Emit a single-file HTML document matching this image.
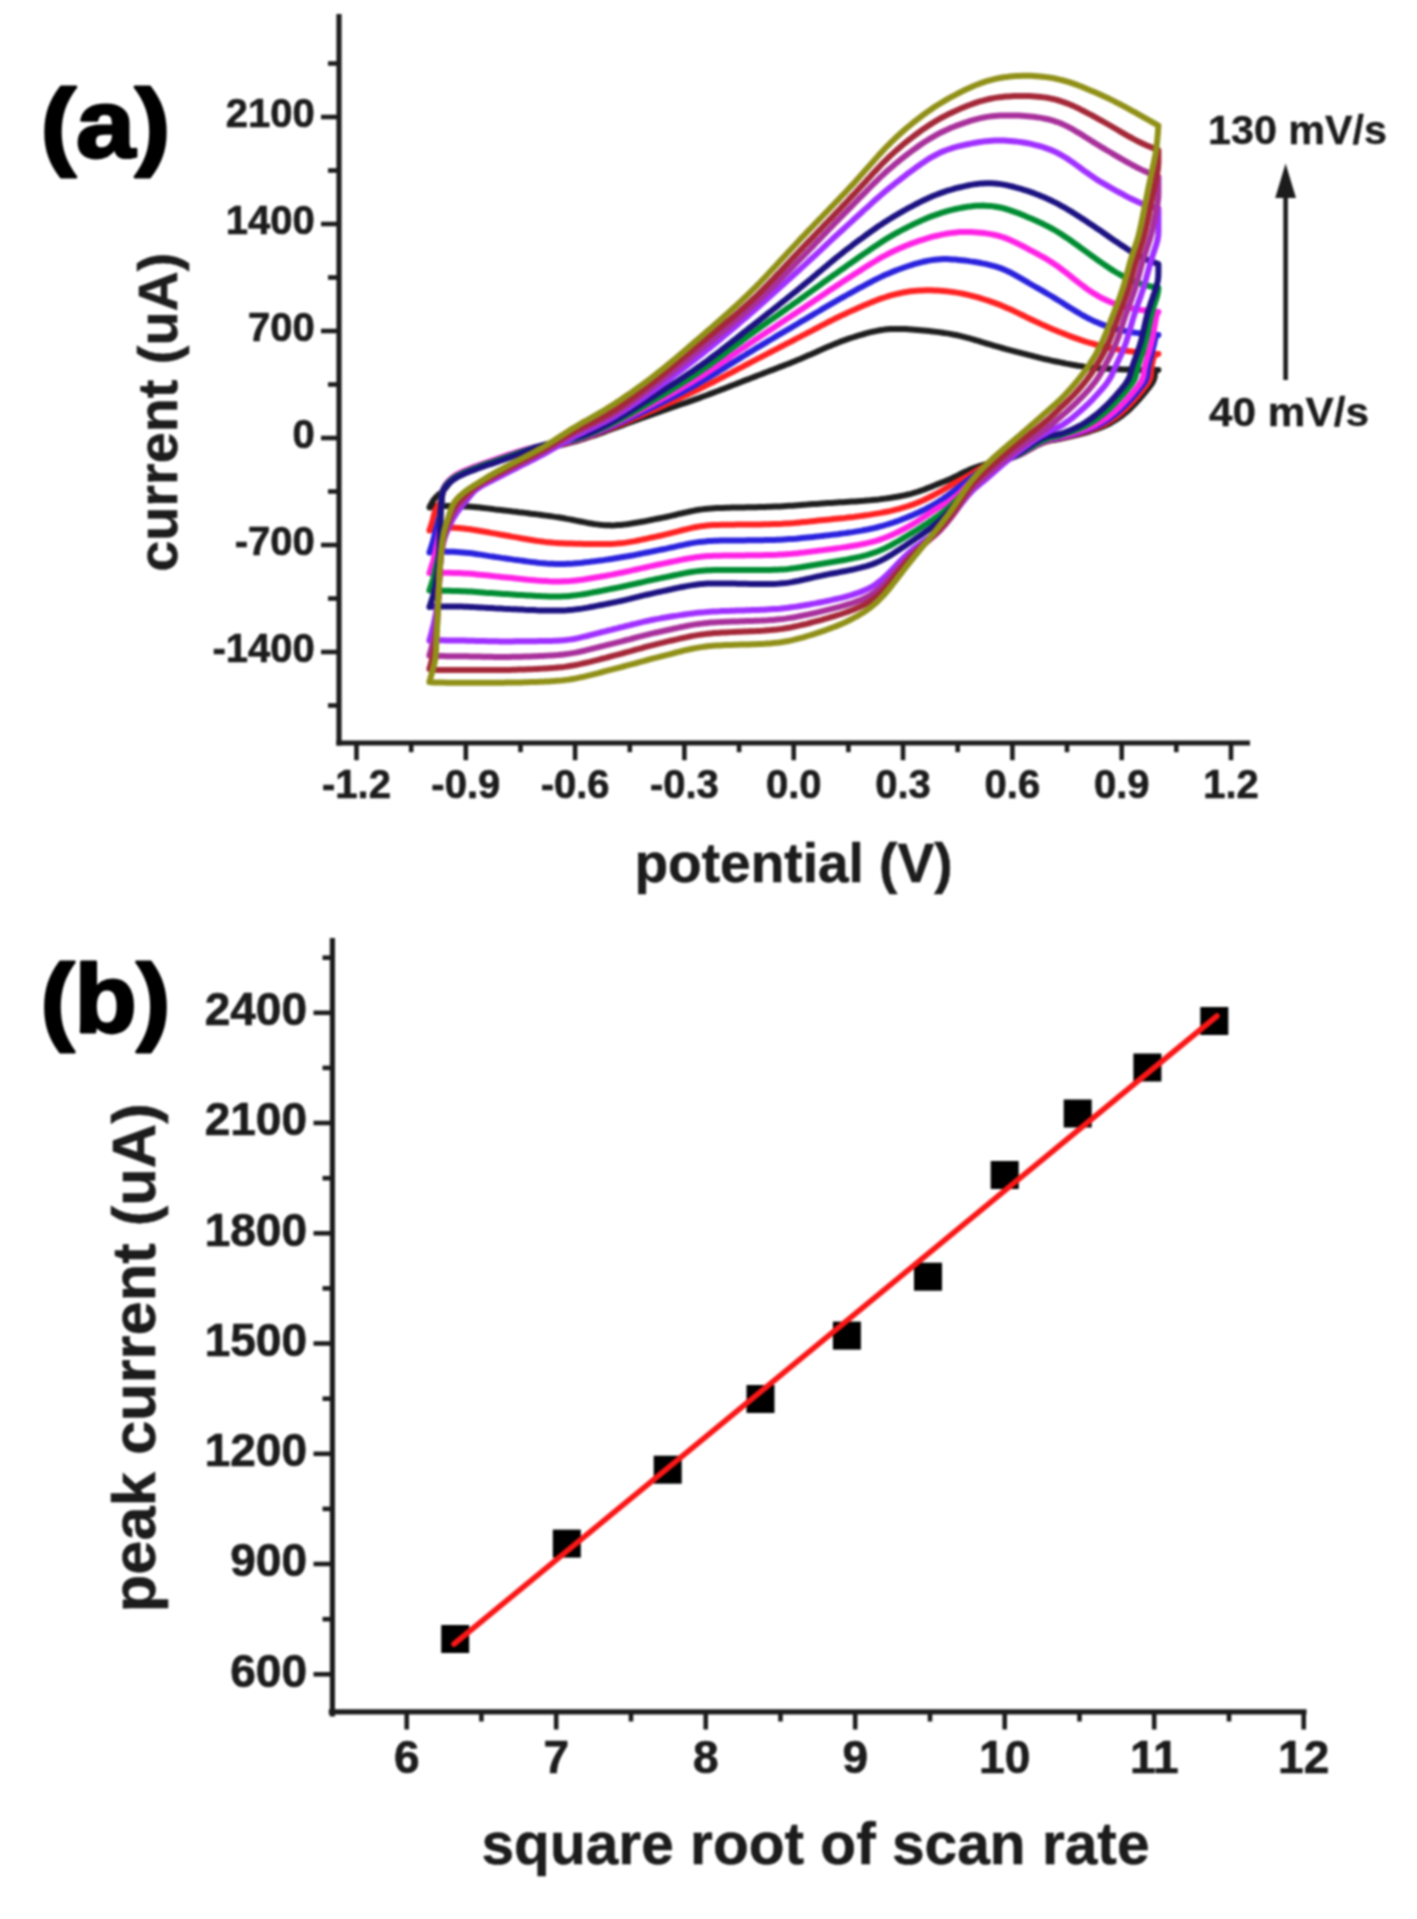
<!DOCTYPE html>
<html><head><meta charset="utf-8"><title>CV scan-rate study</title>
<style>
html,body{margin:0;padding:0;background:#fff;}
body{width:1417px;height:1919px;overflow:hidden;}
svg{display:block;font-family:"Liberation Sans",sans-serif;font-weight:bold;filter:blur(1.1px);}
</style></head>
<body>
<svg width="1417" height="1919" viewBox="0 0 1417 1919">
<rect width="1417" height="1919" fill="#fff"/>
<g id="panel-a">
<g fill="none" stroke-width="6.0" stroke-linejoin="round" stroke-linecap="round">
<path d="M429.4,507.5 430.3,505.7 430.7,504.8 431.2,503.9 432.2,502.2 433.3,500.5 433.8,499.7 434.4,498.9 435.7,497.4 437.1,496.0 437.9,495.4 438.6,494.7 440.2,493.4 441.7,492.1 442.4,491.4 443.1,490.7 444.5,489.2 445.8,487.7 446.4,486.9 447.0,486.1 448.3,484.5 449.5,482.9 450.2,482.1 450.8,481.4 452.2,479.9 453.6,478.7 454.4,478.1 455.2,477.5 456.8,476.5 458.6,475.6 459.5,475.1 460.4,474.7 462.2,473.8 464.1,473.0 465.0,472.6 465.9,472.2 467.8,471.4 469.6,470.7 470.6,470.3 471.5,469.9 473.4,469.2 475.2,468.5 476.2,468.1 477.1,467.8 479.0,467.1 480.9,466.4 481.8,466.1 482.8,465.8 484.6,465.1 486.5,464.5 487.5,464.1 488.4,463.8 490.3,463.2 492.2,462.5 493.2,462.2 494.1,461.8 496.0,461.2 497.9,460.5 498.8,460.2 499.8,459.8 501.6,459.2 503.5,458.5 504.5,458.2 505.4,457.8 507.3,457.2 509.2,456.5 510.2,456.2 511.1,455.9 513.0,455.3 514.9,454.7 515.9,454.4 516.8,454.2 518.7,453.6 520.7,453.1 521.6,452.9 522.6,452.6 524.5,452.2 526.5,451.7 527.5,451.5 528.4,451.3 530.4,450.9 533.3,450.3 536.3,449.8 539.2,449.3 542.2,448.7 545.1,448.2 548.1,447.6 551.0,447.0 554.0,446.5 556.9,445.8 559.8,445.2 562.8,444.5 565.7,443.8 568.6,443.1 571.5,442.4 574.4,441.6 577.3,440.8 580.1,439.9 583.0,439.1 585.8,438.1 588.7,437.2 591.5,436.2 594.4,435.3 597.2,434.3 600.0,433.3 602.9,432.3 605.7,431.3 608.5,430.2 611.3,429.2 614.2,428.2 617.0,427.2 619.8,426.1 622.6,425.1 625.4,424.0 628.2,423.0 631.1,422.0 633.9,420.9 636.7,419.9 639.5,418.9 642.3,417.8 645.1,416.8 648.0,415.8 650.8,414.8 653.6,413.8 656.4,412.8 659.3,411.8 662.1,410.8 665.0,409.9 667.8,408.9 670.6,407.9 673.5,407.0 676.3,406.0 679.2,405.0 682.0,404.0 684.8,403.1 687.7,402.1 690.5,401.1 693.3,400.1 696.1,399.1 699.0,398.1 701.8,397.0 704.6,396.0 707.4,395.0 710.2,393.9 713.0,392.9 715.8,391.8 718.6,390.7 721.4,389.6 724.2,388.6 727.0,387.5 729.8,386.4 732.6,385.3 735.4,384.2 738.2,383.1 741.0,382.0 743.8,380.9 746.6,379.8 749.4,378.8 752.2,377.7 755.0,376.6 757.8,375.5 760.6,374.5 763.4,373.4 766.2,372.3 769.0,371.2 771.8,370.2 774.6,369.1 777.4,368.0 780.2,366.9 783.0,365.9 785.8,364.8 788.6,363.7 791.4,362.6 794.2,361.4 796.9,360.3 799.7,359.2 802.5,358.0 805.3,356.8 808.0,355.6 810.8,354.4 813.5,353.2 816.3,352.0 819.0,350.7 821.8,349.5 824.5,348.3 827.3,347.1 830.0,345.9 832.8,344.7 835.6,343.6 838.4,342.5 841.1,341.4 844.0,340.4 846.8,339.4 849.6,338.4 852.5,337.5 855.3,336.6 858.2,335.7 861.1,334.8 864.0,334.0 866.9,333.2 869.8,332.4 872.7,331.7 875.7,331.1 878.6,330.5 881.6,330.0 884.5,329.6 887.5,329.3 890.4,329.1 893.4,328.9 896.4,328.9 899.4,328.9 902.4,329.0 905.4,329.1 908.4,329.3 911.4,329.5 914.4,329.7 917.4,329.9 920.4,330.2 923.3,330.5 926.3,330.8 929.3,331.1 932.3,331.4 935.3,331.8 938.2,332.1 941.2,332.5 944.2,333.0 947.1,333.4 950.1,333.9 953.0,334.5 955.9,335.0 958.8,335.7 961.7,336.4 964.6,337.1 967.5,337.8 970.4,338.6 973.3,339.5 976.2,340.3 979.1,341.2 981.9,342.1 984.8,343.0 987.7,343.8 990.6,344.7 993.5,345.6 996.4,346.4 999.2,347.2 1002.1,348.0 1005.0,348.8 1007.9,349.6 1010.8,350.4 1013.7,351.1 1016.7,351.9 1019.6,352.6 1022.5,353.4 1025.4,354.1 1028.3,354.9 1031.2,355.6 1034.1,356.4 1037.0,357.1 1039.9,357.9 1042.8,358.6 1045.7,359.3 1048.7,359.9 1051.6,360.6 1054.5,361.2 1057.5,361.8 1060.4,362.4 1063.3,363.0 1066.3,363.6 1069.2,364.1 1072.2,364.7 1075.2,365.2 1078.1,365.7 1081.1,366.1 1084.1,366.6 1087.0,367.0 1090.0,367.3 1093.0,367.6 1096.0,367.9 1099.0,368.2 1101.9,368.4 1104.9,368.6 1107.9,368.8 1110.9,369.0 1113.9,369.1 1116.9,369.2 1119.9,369.3 1122.9,369.4 1125.9,369.5 1128.9,369.6 1131.9,369.7 1134.9,369.8 1137.9,369.8 1140.9,369.9 1143.8,369.9 1146.8,369.9 1147.7,369.9 1148.7,369.9 1149.7,370.0 1150.7,370.0 1151.6,370.0 1152.6,370.0 1153.6,370.0 1154.5,370.0 1155.5,370.0 1156.5,370.0 1157.4,370.0 1158.4,370.0 1154.7,371.5 1154.8,373.0 1154.8,374.5 1154.8,376.0 1154.5,377.5 1154.1,379.0 1153.5,380.5 1152.8,382.0 1151.9,383.5 1150.8,385.0 1149.7,386.5 1148.6,388.0 1147.4,389.5 1146.2,391.0 1144.9,392.5 1143.7,394.0 1142.4,395.5 1141.1,397.0 1139.8,398.5 1138.5,400.0 1137.1,401.5 1135.8,403.0 1134.4,404.5 1132.9,406.0 1131.4,407.5 1129.8,409.0 1128.2,410.5 1126.5,412.0 1124.7,413.5 1122.8,415.0 1120.8,416.5 1118.6,418.0 1116.4,419.5 1114.0,421.0 1111.4,422.5 1108.6,424.0 1105.5,425.5 1102.1,427.0 1098.4,428.5 1094.1,430.0 1089.4,431.5 1084.1,433.0 1078.3,434.5 1072.1,436.0 1065.7,437.5 1059.0,439.0 1057.0,439.4 1056.0,439.5 1055.0,439.7 1053.0,440.0 1051.0,440.3 1050.0,440.6 1049.0,440.8 1047.0,441.3 1045.0,442.0 1044.0,442.3 1043.0,442.7 1041.0,443.5 1039.0,444.4 1038.0,444.9 1037.0,445.4 1035.0,446.4 1033.0,447.5 1032.0,448.1 1031.0,448.6 1029.0,449.8 1027.0,450.9 1026.0,451.4 1025.0,452.0 1023.0,453.0 1021.0,454.0 1020.0,454.5 1019.0,454.9 1017.0,455.7 1015.0,456.5 1014.0,456.8 1013.0,457.2 1011.0,457.8 1009.0,458.3 1008.0,458.6 1007.0,458.9 1005.0,459.4 1003.0,459.9 1002.0,460.2 1001.0,460.4 999.0,460.9 997.0,461.4 996.0,461.7 995.0,461.9 993.0,462.4 991.0,462.9 990.0,463.1 989.0,463.4 987.0,463.9 985.0,464.5 984.0,464.7 983.0,465.0 981.0,465.6 979.0,466.2 978.0,466.6 977.0,466.9 975.0,467.6 973.0,468.3 972.0,468.7 971.0,469.1 969.0,470.0 967.0,470.9 966.0,471.4 965.0,471.8 963.0,472.8 961.0,473.8 960.0,474.3 959.0,474.8 957.0,475.9 955.0,476.8 954.0,477.3 953.0,477.8 951.0,478.7 949.0,479.6 948.0,480.0 947.0,480.4 945.0,481.2 943.0,482.0 942.0,482.4 941.0,482.8 939.0,483.6 937.0,484.4 936.0,484.8 935.0,485.2 933.0,486.0 931.0,486.9 930.0,487.3 929.0,487.7 927.0,488.4 925.0,489.2 924.0,489.6 923.0,490.0 921.0,490.7 919.0,491.4 918.0,491.7 917.0,492.0 915.0,492.6 913.0,493.2 912.0,493.5 911.0,493.8 909.0,494.3 907.0,494.7 906.0,495.0 905.0,495.2 903.0,495.6 901.0,496.0 900.0,496.2 897.0,496.8 894.0,497.3 891.0,497.8 888.0,498.2 885.0,498.6 882.0,499.0 879.0,499.4 876.0,499.7 873.0,500.0 870.0,500.3 867.0,500.5 864.0,500.8 861.0,501.0 858.0,501.2 855.0,501.4 852.0,501.6 849.0,501.8 846.0,502.0 843.0,502.2 840.0,502.3 837.0,502.5 834.0,502.7 831.0,502.9 828.0,503.1 825.0,503.3 822.0,503.5 819.0,503.7 816.0,503.9 813.0,504.1 810.0,504.3 807.0,504.6 804.0,504.8 801.0,505.0 798.0,505.2 795.0,505.4 792.0,505.7 789.0,505.8 786.0,506.0 783.0,506.2 780.0,506.4 777.0,506.5 774.0,506.6 771.0,506.7 768.0,506.8 765.0,506.9 762.0,507.0 759.0,507.1 756.0,507.2 753.0,507.2 750.0,507.3 747.0,507.3 744.0,507.4 741.0,507.5 738.0,507.5 735.0,507.6 732.0,507.6 729.0,507.7 726.0,507.8 723.0,507.9 720.0,508.0 717.0,508.1 714.0,508.3 711.0,508.5 708.0,508.7 705.0,509.0 702.0,509.4 699.0,509.8 696.0,510.3 693.0,510.9 690.0,511.5 687.0,512.2 684.0,512.8 681.0,513.5 678.0,514.2 675.0,515.0 672.0,515.6 669.0,516.3 666.0,517.0 663.0,517.6 660.0,518.2 657.0,518.8 654.0,519.4 651.0,520.0 648.0,520.6 645.0,521.2 642.0,521.7 639.0,522.3 636.0,522.8 633.0,523.3 630.0,523.8 627.0,524.2 624.0,524.6 621.0,524.9 618.0,525.1 615.0,525.3 612.0,525.4 609.0,525.3 606.0,525.3 603.0,525.1 600.0,524.8 597.0,524.4 594.0,524.0 591.0,523.5 588.0,523.0 585.0,522.4 582.0,521.8 579.0,521.2 576.0,520.6 573.0,520.0 570.0,519.4 567.0,518.9 564.0,518.3 561.0,517.8 558.0,517.3 555.0,516.9 552.0,516.4 549.0,516.0 546.0,515.6 543.0,515.2 540.0,514.8 537.0,514.4 534.0,514.0 531.0,513.7 528.0,513.3 525.0,512.9 522.0,512.5 519.0,512.2 516.0,511.8 513.0,511.5 510.0,511.1 507.0,510.8 504.0,510.4 501.0,510.1 498.0,509.7 495.0,509.4 492.0,509.0 489.0,508.6 486.0,508.3 483.0,507.9 480.0,507.6 477.0,507.3 474.0,507.0 471.0,506.7 468.0,506.5 465.0,506.4 462.0,506.2 459.0,506.1 456.0,506.1 453.0,506.0 450.0,506.0 447.0,506.0 444.0,506.0 441.0,506.0 438.0,506.1 435.0,506.4 432.0,507.0 429.4,507.5Z" stroke="#1e1e1e"/>
<path d="M429.4,530.5 430.1,528.6 430.4,527.7 430.7,526.7 431.3,524.8 431.9,522.9 432.2,521.9 432.5,521.0 433.0,519.0 433.5,517.1 433.7,516.1 433.9,515.1 434.4,513.2 435.0,511.3 435.4,510.4 435.7,509.5 436.7,507.7 437.8,506.0 438.3,505.2 438.9,504.4 440.0,502.7 440.9,500.9 441.2,500.0 441.5,499.1 441.9,497.2 442.2,495.2 442.3,494.2 442.5,493.3 442.9,491.4 443.5,489.6 443.8,488.7 444.3,487.8 445.3,486.1 446.6,484.5 447.3,483.7 448.0,482.9 449.5,481.5 451.0,480.1 451.8,479.4 452.6,478.8 454.2,477.6 455.9,476.5 456.7,476.0 457.6,475.6 459.4,474.6 461.2,473.8 462.1,473.4 463.1,472.9 464.9,472.1 466.8,471.3 467.7,471.0 468.6,470.6 470.5,469.8 472.3,469.1 473.3,468.7 474.2,468.4 476.1,467.7 478.0,467.0 478.9,466.7 479.8,466.3 481.7,465.6 483.6,465.0 484.6,464.7 485.5,464.3 487.4,463.7 489.3,463.0 490.2,462.7 491.2,462.4 493.1,461.7 494.9,461.1 495.9,460.7 496.8,460.4 498.7,459.7 500.6,459.0 501.6,458.7 502.5,458.4 504.4,457.7 506.3,457.1 507.2,456.7 508.2,456.4 510.1,455.8 512.9,454.8 515.8,454.0 518.6,453.1 521.5,452.3 524.4,451.6 527.3,450.9 530.2,450.2 533.2,449.6 536.1,449.0 539.1,448.5 542.0,447.9 545.0,447.3 547.9,446.8 550.9,446.2 553.8,445.6 556.8,445.1 559.7,444.5 562.6,443.8 565.6,443.2 568.5,442.5 571.4,441.8 574.3,441.0 577.1,440.2 580.0,439.4 582.9,438.5 585.7,437.5 588.5,436.6 591.4,435.6 594.2,434.5 597.0,433.5 599.8,432.4 602.6,431.3 605.4,430.2 608.2,429.1 611.0,428.0 613.8,426.9 616.5,425.7 619.3,424.6 622.1,423.5 624.9,422.3 627.6,421.1 630.4,420.0 633.2,418.8 635.9,417.6 638.7,416.4 641.4,415.2 644.2,414.0 646.9,412.8 649.7,411.6 652.4,410.4 655.2,409.2 657.9,408.0 660.7,406.8 663.4,405.6 666.1,404.3 668.9,403.1 671.6,401.9 674.3,400.7 677.1,399.4 679.8,398.2 682.5,396.9 685.3,395.6 688.0,394.4 690.7,393.1 693.4,391.8 696.1,390.5 698.8,389.2 701.5,387.9 704.2,386.6 706.9,385.2 709.5,383.9 712.2,382.5 714.9,381.2 717.6,379.8 720.2,378.4 722.9,377.0 725.5,375.6 728.2,374.2 730.9,372.9 733.5,371.5 736.2,370.1 738.8,368.7 741.5,367.3 744.1,365.9 746.8,364.5 749.5,363.1 752.1,361.7 754.8,360.3 757.4,358.9 760.1,357.6 762.8,356.2 765.4,354.8 768.1,353.4 770.8,352.0 773.4,350.6 776.1,349.3 778.7,347.9 781.4,346.5 784.1,345.1 786.7,343.7 789.4,342.4 792.1,341.0 794.7,339.6 797.4,338.2 800.1,336.8 802.7,335.4 805.4,334.1 808.0,332.7 810.7,331.3 813.4,329.9 816.0,328.5 818.7,327.1 821.3,325.7 824.0,324.3 826.7,322.9 829.3,321.5 832.0,320.2 834.7,318.8 837.4,317.5 840.1,316.2 842.8,314.9 845.5,313.7 848.2,312.4 851.0,311.1 853.7,309.9 856.5,308.7 859.2,307.5 862.0,306.3 864.8,305.1 867.5,303.9 870.3,302.7 873.1,301.6 875.9,300.5 878.7,299.4 881.6,298.4 884.4,297.5 887.3,296.5 890.1,295.7 893.0,294.9 895.9,294.1 898.8,293.5 901.7,292.8 904.6,292.3 907.6,291.8 910.5,291.3 913.5,291.0 916.5,290.7 919.4,290.5 922.4,290.4 925.4,290.3 928.4,290.3 931.4,290.3 934.4,290.4 937.4,290.6 940.4,290.8 943.4,291.0 946.3,291.3 949.3,291.6 952.3,292.0 955.2,292.4 958.2,292.9 961.1,293.4 964.1,294.0 967.0,294.6 969.9,295.3 972.9,296.1 975.8,296.9 978.7,297.7 981.6,298.6 984.4,299.5 987.3,300.4 990.2,301.3 993.0,302.3 995.8,303.4 998.6,304.4 1001.4,305.5 1004.2,306.7 1006.9,307.9 1009.6,309.1 1012.4,310.3 1015.1,311.6 1017.8,312.9 1020.5,314.2 1023.2,315.5 1025.9,316.9 1028.6,318.2 1031.3,319.5 1034.0,320.8 1036.7,322.1 1039.4,323.3 1042.2,324.6 1044.9,325.8 1047.6,327.0 1050.4,328.2 1053.2,329.4 1055.9,330.5 1058.7,331.7 1061.5,332.8 1064.3,333.9 1067.1,335.0 1069.9,336.1 1072.7,337.1 1075.5,338.2 1078.4,339.2 1081.2,340.2 1084.1,341.1 1086.9,342.0 1089.8,342.9 1092.7,343.7 1095.5,344.5 1098.4,345.3 1101.3,346.0 1104.2,346.7 1107.2,347.4 1110.1,348.0 1113.0,348.6 1116.0,349.1 1118.9,349.6 1121.9,350.1 1124.9,350.6 1127.8,351.0 1130.8,351.4 1133.8,351.8 1136.7,352.2 1139.7,352.5 1142.7,352.8 1145.6,353.1 1146.6,353.2 1147.6,353.2 1148.6,353.3 1149.6,353.4 1150.6,353.5 1151.5,353.5 1152.5,353.6 1153.5,353.7 1154.5,353.7 1155.5,353.8 1156.4,353.9 1157.4,353.9 1158.4,354.0 1154.2,355.5 1153.8,357.0 1153.4,358.5 1153.0,360.0 1152.6,361.5 1152.3,363.0 1152.0,364.5 1151.7,366.0 1151.5,367.5 1151.3,369.0 1151.2,370.5 1151.1,372.0 1151.0,373.5 1150.9,375.0 1150.7,376.5 1150.3,378.0 1149.8,379.5 1149.1,381.0 1148.3,382.5 1147.3,384.0 1146.2,385.5 1145.1,387.0 1143.9,388.5 1142.7,390.0 1141.5,391.5 1140.2,393.0 1138.9,394.5 1137.7,396.0 1136.4,397.5 1135.0,399.0 1133.7,400.5 1132.3,402.0 1130.9,403.5 1129.5,405.0 1128.0,406.5 1126.5,408.0 1124.9,409.5 1123.2,411.0 1121.5,412.5 1119.7,414.0 1117.7,415.5 1115.7,417.0 1113.6,418.5 1111.3,420.0 1108.9,421.5 1106.3,423.0 1103.5,424.5 1100.4,426.0 1097.0,427.5 1093.1,429.0 1088.9,430.5 1084.1,432.0 1078.9,433.5 1073.2,435.0 1067.2,436.5 1060.9,438.0 1058.9,438.4 1057.9,438.6 1056.9,438.7 1054.9,439.1 1052.9,439.4 1051.9,439.6 1050.9,439.8 1048.9,440.3 1046.9,440.9 1045.9,441.2 1044.9,441.6 1042.9,442.3 1040.9,443.2 1039.9,443.6 1038.9,444.1 1036.9,445.1 1034.9,446.2 1033.9,446.8 1032.9,447.3 1030.9,448.5 1028.9,449.6 1027.9,450.2 1026.9,450.8 1024.9,451.9 1022.9,453.0 1021.9,453.5 1020.9,454.0 1018.9,454.9 1016.9,455.8 1015.9,456.2 1014.9,456.5 1012.9,457.2 1010.9,457.9 1009.9,458.2 1008.9,458.5 1006.9,459.1 1004.9,459.6 1003.9,459.9 1002.9,460.2 1000.9,460.8 998.9,461.3 997.9,461.6 996.9,461.9 994.9,462.4 992.9,463.0 991.9,463.3 990.9,463.6 988.9,464.3 986.9,465.1 985.9,465.6 984.9,466.0 982.9,467.0 980.9,468.2 979.9,468.8 978.9,469.4 976.9,470.6 974.9,471.8 973.9,472.4 972.9,473.1 970.9,474.2 968.9,475.4 967.9,475.9 966.9,476.5 964.9,477.6 962.9,478.6 961.9,479.2 960.9,479.7 958.9,480.8 956.9,481.9 955.9,482.4 954.9,483.0 952.9,484.1 950.9,485.3 949.9,485.9 948.9,486.5 946.9,487.7 944.9,488.8 943.9,489.4 942.9,490.0 940.9,491.2 938.9,492.3 937.9,492.8 936.9,493.4 934.9,494.4 932.9,495.5 931.9,496.0 930.9,496.5 928.9,497.5 926.9,498.5 925.9,499.0 924.9,499.5 922.9,500.4 920.9,501.3 919.9,501.7 918.9,502.1 916.9,503.0 914.9,503.7 913.9,504.1 912.9,504.5 910.9,505.2 908.9,505.9 907.9,506.2 906.9,506.5 904.9,507.1 902.9,507.7 901.9,508.0 900.9,508.3 898.9,508.9 895.9,509.6 892.9,510.4 889.9,511.1 886.9,511.7 883.9,512.3 880.9,512.9 877.9,513.4 874.9,513.9 871.9,514.4 868.9,514.9 865.9,515.3 862.9,515.7 859.9,516.1 856.9,516.5 853.9,516.9 850.9,517.2 847.9,517.5 844.9,517.9 841.9,518.2 838.9,518.5 835.9,518.8 832.9,519.1 829.9,519.4 826.9,519.7 823.9,520.0 820.9,520.3 817.9,520.6 814.9,520.9 811.9,521.2 808.9,521.6 805.9,521.9 802.9,522.1 799.9,522.4 796.9,522.7 793.9,523.0 790.9,523.2 787.9,523.4 784.9,523.6 781.9,523.8 778.9,523.9 775.9,524.0 772.9,524.1 769.9,524.2 766.9,524.3 763.9,524.3 760.9,524.4 757.9,524.4 754.9,524.5 751.9,524.5 748.9,524.5 745.9,524.6 742.9,524.6 739.9,524.6 736.9,524.6 733.9,524.7 730.9,524.7 727.9,524.7 724.9,524.8 721.9,524.8 718.9,524.9 715.9,525.0 712.9,525.1 709.9,525.3 706.9,525.6 703.9,525.9 700.9,526.3 697.9,526.7 694.9,527.3 691.9,527.9 688.9,528.6 685.9,529.3 682.9,530.0 679.9,530.8 676.9,531.6 673.9,532.4 670.9,533.1 667.9,533.9 664.9,534.6 661.9,535.3 658.9,536.0 655.9,536.6 652.9,537.3 649.9,537.9 646.9,538.6 643.9,539.2 640.9,539.9 637.9,540.5 634.9,541.1 631.9,541.6 628.9,542.1 625.9,542.6 622.9,543.0 619.9,543.3 616.9,543.6 613.9,543.8 610.9,543.9 607.9,544.0 604.9,544.1 601.9,544.1 598.9,544.1 595.9,544.1 592.9,544.0 589.9,544.0 586.9,544.0 583.9,543.9 580.9,543.8 577.9,543.8 574.9,543.7 571.9,543.6 568.9,543.5 565.9,543.4 562.9,543.3 559.9,543.2 556.9,543.0 553.9,542.8 550.9,542.5 547.9,542.2 544.9,541.9 541.9,541.5 538.9,541.1 535.9,540.7 532.9,540.2 529.9,539.7 526.9,539.2 523.9,538.7 520.9,538.2 517.9,537.6 514.9,537.1 511.9,536.6 508.9,536.0 505.9,535.5 502.9,535.0 499.9,534.5 496.9,533.9 493.9,533.4 490.9,532.9 487.9,532.3 484.9,531.8 481.9,531.2 478.9,530.7 475.9,530.2 472.9,529.8 469.9,529.3 466.9,528.9 463.9,528.6 460.9,528.3 457.9,528.0 454.9,527.8 451.9,527.7 448.9,527.6 445.9,527.5 442.9,527.4 439.9,527.3 436.9,527.5 433.9,528.5 430.9,529.8 429.4,530.5Z" stroke="#ff2222"/>
<path d="M429.4,552.5 430.1,550.6 430.4,549.7 430.7,548.7 431.3,546.8 431.9,544.9 432.2,544.0 432.5,543.0 433.0,541.1 433.6,539.1 433.8,538.2 434.0,537.2 434.5,535.3 435.0,533.3 435.2,532.3 435.5,531.4 436.0,529.4 436.5,527.5 436.8,526.5 437.1,525.6 437.6,523.6 438.2,521.7 438.4,520.7 438.7,519.8 439.2,517.8 439.7,515.9 439.9,514.9 440.1,513.9 440.4,512.0 440.7,510.0 440.8,509.0 440.9,508.0 441.1,506.0 441.3,504.0 441.4,503.0 441.4,502.0 441.6,500.0 441.8,498.0 441.9,497.0 442.0,496.0 442.2,494.0 442.6,492.1 442.8,491.2 443.1,490.3 443.7,488.5 444.7,486.8 445.2,485.9 445.8,485.1 447.1,483.5 448.5,481.9 449.3,481.2 450.0,480.5 451.6,479.1 453.2,477.9 454.0,477.3 454.8,476.7 456.5,475.7 458.2,474.7 459.1,474.3 460.0,473.8 461.8,473.0 463.7,472.2 464.6,471.8 465.6,471.4 467.4,470.6 469.3,469.8 470.2,469.4 471.1,469.1 473.0,468.3 474.9,467.6 475.8,467.3 476.7,466.9 478.6,466.3 480.5,465.6 481.4,465.3 482.4,464.9 484.3,464.3 486.2,463.6 487.1,463.3 488.0,463.0 489.9,462.3 492.8,461.3 495.6,460.3 498.4,459.3 501.3,458.3 504.1,457.3 506.9,456.3 509.8,455.4 512.6,454.4 515.5,453.5 518.3,452.7 521.2,451.8 524.1,451.0 527.0,450.3 529.9,449.6 532.8,448.9 535.8,448.3 538.7,447.7 541.6,447.1 544.6,446.5 547.5,446.0 550.5,445.4 553.5,444.9 556.4,444.3 559.4,443.8 562.3,443.2 565.2,442.6 568.1,441.9 571.1,441.3 573.9,440.5 576.8,439.7 579.7,438.9 582.5,438.0 585.4,437.0 588.2,436.0 591.0,435.0 593.8,433.9 596.6,432.8 599.4,431.7 602.2,430.5 604.9,429.4 607.7,428.2 610.5,427.0 613.2,425.8 616.0,424.6 618.7,423.4 621.4,422.1 624.2,420.9 626.9,419.6 629.6,418.3 632.3,417.0 635.0,415.8 637.7,414.5 640.4,413.2 643.1,411.8 645.8,410.5 648.5,409.2 651.2,407.9 653.9,406.6 656.6,405.2 659.3,403.9 662.0,402.6 664.7,401.2 667.3,399.9 670.0,398.5 672.7,397.1 675.4,395.8 678.0,394.4 680.7,393.0 683.3,391.6 686.0,390.2 688.6,388.8 691.3,387.4 693.9,385.9 696.5,384.5 699.1,383.0 701.7,381.5 704.3,380.0 706.9,378.5 709.5,377.0 712.1,375.5 714.7,373.9 717.2,372.4 719.8,370.8 722.3,369.2 724.9,367.6 727.4,366.0 730.0,364.4 732.5,362.9 735.1,361.3 737.6,359.7 740.2,358.1 742.7,356.5 745.3,355.0 747.8,353.4 750.4,351.8 753.0,350.3 755.5,348.7 758.1,347.2 760.7,345.6 763.2,344.1 765.8,342.6 768.4,341.0 771.0,339.5 773.6,338.0 776.1,336.4 778.7,334.9 781.3,333.4 783.9,331.9 786.5,330.3 789.1,328.8 791.7,327.3 794.2,325.8 796.8,324.3 799.4,322.7 802.0,321.2 804.6,319.7 807.2,318.1 809.7,316.6 812.3,315.1 814.9,313.5 817.5,312.0 820.1,310.5 822.6,308.9 825.2,307.4 827.8,305.9 830.4,304.4 833.0,302.9 835.6,301.4 838.2,299.9 840.8,298.4 843.4,297.0 846.1,295.5 848.7,294.0 851.3,292.6 854.0,291.1 856.6,289.7 859.2,288.2 861.9,286.8 864.5,285.4 867.2,283.9 869.9,282.5 872.5,281.1 875.2,279.7 877.9,278.4 880.6,277.1 883.3,275.8 886.1,274.6 888.8,273.4 891.5,272.2 894.3,271.1 897.1,270.0 899.9,269.0 902.7,268.0 905.5,267.0 908.4,266.0 911.3,265.1 914.1,264.2 917.0,263.4 919.9,262.6 922.9,261.8 925.8,261.2 928.7,260.6 931.7,260.1 934.6,259.7 937.6,259.4 940.6,259.2 943.6,259.1 946.5,259.1 949.5,259.2 952.5,259.4 955.5,259.6 958.5,259.9 961.5,260.2 964.5,260.5 967.5,260.9 970.5,261.4 973.5,261.8 976.5,262.3 979.5,262.8 982.4,263.4 985.3,263.9 988.2,264.6 991.1,265.3 994.0,266.1 996.8,266.9 999.6,267.8 1002.3,268.9 1005.0,270.0 1007.7,271.2 1010.4,272.5 1013.0,273.9 1015.6,275.4 1018.3,276.9 1020.9,278.4 1023.5,279.9 1026.1,281.4 1028.7,283.0 1031.3,284.5 1033.9,286.0 1036.5,287.5 1039.1,288.9 1041.7,290.4 1044.3,291.9 1046.9,293.5 1049.5,295.0 1052.1,296.5 1054.7,298.1 1057.3,299.7 1059.8,301.2 1062.4,302.8 1064.9,304.5 1067.5,306.1 1070.1,307.7 1072.6,309.3 1075.2,310.9 1077.8,312.4 1080.4,314.0 1083.0,315.5 1085.6,316.9 1088.2,318.3 1090.9,319.6 1093.5,320.9 1096.2,322.1 1099.0,323.3 1101.7,324.4 1104.5,325.4 1107.4,326.4 1110.2,327.3 1113.1,328.1 1116.0,328.9 1118.9,329.6 1121.8,330.3 1124.7,330.9 1127.6,331.5 1130.6,332.0 1133.6,332.5 1136.5,332.9 1139.5,333.3 1142.5,333.7 1145.5,334.0 1146.5,334.1 1147.4,334.2 1148.4,334.3 1149.4,334.3 1150.4,334.4 1151.4,334.5 1152.4,334.6 1153.4,334.6 1154.4,334.7 1155.4,334.8 1156.4,334.9 1157.4,334.9 1158.4,335.0 1155.6,336.5 1155.3,338.0 1155.0,339.5 1154.7,341.0 1154.4,342.5 1154.1,344.0 1153.7,345.5 1153.3,347.0 1152.9,348.5 1152.5,350.0 1152.1,351.5 1151.7,353.0 1151.3,354.5 1150.9,356.0 1150.5,357.5 1150.0,359.0 1149.6,360.5 1149.2,362.0 1148.9,363.5 1148.5,365.0 1148.2,366.5 1148.0,368.0 1147.8,369.5 1147.6,371.0 1147.5,372.5 1147.4,374.0 1147.1,375.5 1146.8,377.0 1146.4,378.5 1145.8,380.0 1145.0,381.5 1144.1,383.0 1143.1,384.5 1142.0,386.0 1140.8,387.5 1139.6,389.0 1138.4,390.5 1137.2,392.0 1135.9,393.5 1134.6,395.0 1133.3,396.5 1132.0,398.0 1130.7,399.5 1129.3,401.0 1127.9,402.5 1126.5,404.0 1125.0,405.5 1123.5,407.0 1122.0,408.5 1120.4,410.0 1118.7,411.5 1116.9,413.0 1115.0,414.5 1113.1,416.0 1111.1,417.5 1108.9,419.0 1106.6,420.5 1104.2,422.0 1101.6,423.5 1098.7,425.0 1095.6,426.5 1092.2,428.0 1088.3,429.5 1084.0,431.0 1079.3,432.5 1074.1,434.0 1068.5,435.5 1062.6,437.0 1059.5,437.8 1057.5,438.1 1056.5,438.3 1055.5,438.5 1053.5,438.8 1051.5,439.2 1050.5,439.4 1049.5,439.6 1047.5,440.2 1045.5,440.8 1044.5,441.2 1043.5,441.6 1041.5,442.4 1039.5,443.3 1038.5,443.8 1037.5,444.3 1035.5,445.4 1033.5,446.5 1032.5,447.1 1031.5,447.7 1029.5,448.9 1027.5,450.0 1026.5,450.6 1025.5,451.2 1023.5,452.3 1021.5,453.4 1020.5,453.9 1019.5,454.4 1017.5,455.3 1015.5,456.2 1014.5,456.6 1013.5,457.0 1011.5,457.7 1009.5,458.4 1008.5,458.7 1007.5,459.1 1005.5,459.7 1003.5,460.4 1002.5,460.7 1001.5,461.0 999.5,461.7 997.5,462.3 996.5,462.7 995.5,463.0 993.5,463.7 991.5,464.5 990.5,464.9 989.5,465.3 987.5,466.3 985.5,467.4 984.5,467.9 983.5,468.6 981.5,469.9 979.5,471.3 978.5,472.1 977.5,472.9 975.5,474.4 973.5,476.0 972.5,476.8 971.5,477.5 969.5,479.1 967.5,480.6 966.5,481.3 965.5,482.1 963.5,483.6 961.5,485.1 960.5,485.8 959.5,486.6 957.5,488.1 955.5,489.6 954.5,490.3 953.5,491.1 951.5,492.6 949.5,494.1 948.5,494.8 947.5,495.6 945.5,497.0 943.5,498.5 942.5,499.2 941.5,499.8 939.5,501.1 937.5,502.4 936.5,503.0 935.5,503.6 933.5,504.7 931.5,505.9 930.5,506.4 929.5,507.0 927.5,508.0 925.5,509.1 924.5,509.6 923.5,510.1 921.5,511.0 919.5,512.0 918.5,512.5 917.5,512.9 915.5,513.8 913.5,514.7 912.5,515.1 911.5,515.6 909.5,516.4 907.5,517.2 906.5,517.6 905.5,518.0 903.5,518.8 901.5,519.6 900.5,520.0 897.5,521.1 894.5,522.1 891.5,523.2 888.5,524.1 885.5,525.0 882.5,525.9 879.5,526.7 876.5,527.5 873.5,528.2 870.5,528.8 867.5,529.5 864.5,530.0 861.5,530.6 858.5,531.1 855.5,531.6 852.5,532.1 849.5,532.5 846.5,533.0 843.5,533.4 840.5,533.8 837.5,534.2 834.5,534.5 831.5,534.9 828.5,535.3 825.5,535.6 822.5,535.9 819.5,536.3 816.5,536.6 813.5,536.9 810.5,537.2 807.5,537.5 804.5,537.8 801.5,538.1 798.5,538.4 795.5,538.7 792.5,538.9 789.5,539.1 786.5,539.3 783.5,539.5 780.5,539.7 777.5,539.8 774.5,539.9 771.5,540.0 768.5,540.1 765.5,540.1 762.5,540.2 759.5,540.2 756.5,540.3 753.5,540.3 750.5,540.3 747.5,540.3 744.5,540.4 741.5,540.4 738.5,540.4 735.5,540.4 732.5,540.5 729.5,540.5 726.5,540.5 723.5,540.6 720.5,540.6 717.5,540.7 714.5,540.8 711.5,541.0 708.5,541.1 705.5,541.4 702.5,541.7 699.5,542.0 696.5,542.4 693.5,542.9 690.5,543.4 687.5,544.0 684.5,544.6 681.5,545.3 678.5,545.9 675.5,546.6 672.5,547.3 669.5,547.9 666.5,548.6 663.5,549.2 660.5,549.8 657.5,550.4 654.5,551.0 651.5,551.6 648.5,552.2 645.5,552.8 642.5,553.4 639.5,554.0 636.5,554.6 633.5,555.2 630.5,555.7 627.5,556.3 624.5,556.8 621.5,557.3 618.5,557.8 615.5,558.3 612.5,558.8 609.5,559.2 606.5,559.6 603.5,560.1 600.5,560.5 597.5,560.9 594.5,561.3 591.5,561.6 588.5,562.0 585.5,562.3 582.5,562.7 579.5,563.0 576.5,563.2 573.5,563.5 570.5,563.7 567.5,563.8 564.5,563.9 561.5,564.0 558.5,564.0 555.5,563.9 552.5,563.8 549.5,563.7 546.5,563.5 543.5,563.2 540.5,563.0 537.5,562.7 534.5,562.3 531.5,562.0 528.5,561.6 525.5,561.2 522.5,560.8 519.5,560.4 516.5,560.0 513.5,559.6 510.5,559.1 507.5,558.7 504.5,558.3 501.5,557.9 498.5,557.4 495.5,557.0 492.5,556.5 489.5,556.1 486.5,555.6 483.5,555.1 480.5,554.6 477.5,554.2 474.5,553.7 471.5,553.3 468.5,553.0 465.5,552.7 462.5,552.4 459.5,552.2 456.5,552.0 453.5,551.8 450.5,551.7 447.5,551.7 444.5,551.6 441.5,551.5 438.5,551.5 435.5,551.7 432.5,552.0 429.5,552.5 429.4,552.5Z" stroke="#2a22dd"/>
<path d="M429.4,573.0 430.1,571.1 430.4,570.2 430.7,569.2 431.3,567.3 431.9,565.4 432.2,564.5 432.5,563.5 433.1,561.6 433.6,559.6 433.8,558.7 434.1,557.7 434.5,555.8 435.0,553.8 435.2,552.8 435.4,551.9 435.9,549.9 436.3,547.9 436.5,547.0 436.7,546.0 437.1,544.0 437.6,542.1 437.8,541.1 438.0,540.1 438.4,538.1 438.7,536.2 438.9,535.2 439.1,534.2 439.4,532.2 439.6,530.2 439.8,529.2 439.9,528.2 440.1,526.3 440.2,524.3 440.3,523.3 440.3,522.3 440.4,520.3 440.5,518.3 440.5,517.3 440.6,516.3 440.6,514.3 440.7,512.3 440.8,511.3 440.8,510.3 440.9,508.3 441.1,506.3 441.1,505.3 441.2,504.3 441.4,502.3 441.6,500.3 441.7,499.3 441.7,498.3 441.9,496.3 442.2,494.3 442.3,493.3 442.4,492.3 442.8,490.5 443.4,488.7 443.8,487.8 444.2,486.9 445.2,485.2 446.4,483.5 447.1,482.7 447.8,481.9 449.2,480.4 450.8,478.9 451.5,478.2 452.3,477.6 453.9,476.4 455.5,475.3 456.3,474.8 457.2,474.3 459.0,473.4 460.8,472.5 461.7,472.1 462.6,471.6 464.5,470.8 466.3,470.0 467.3,469.6 468.2,469.3 470.0,468.5 472.8,467.4 475.6,466.3 478.5,465.3 481.3,464.3 484.1,463.3 487.0,462.3 489.8,461.4 492.6,460.4 495.5,459.4 498.3,458.4 501.1,457.4 504.0,456.4 506.8,455.4 509.6,454.4 512.5,453.5 515.3,452.6 518.2,451.7 521.0,450.8 523.9,450.0 526.8,449.2 529.7,448.4 532.6,447.7 535.5,447.0 538.5,446.4 541.4,445.8 544.4,445.2 547.3,444.7 550.3,444.2 553.3,443.7 556.2,443.2 559.2,442.8 562.1,442.3 565.1,441.8 568.0,441.2 570.9,440.6 573.8,439.9 576.7,439.2 579.6,438.4 582.4,437.5 585.2,436.5 588.0,435.5 590.8,434.4 593.6,433.2 596.4,432.1 599.1,430.9 601.9,429.6 604.6,428.4 607.4,427.1 610.1,425.9 612.8,424.6 615.5,423.3 618.2,422.0 620.9,420.7 623.6,419.3 626.3,418.0 629.0,416.6 631.6,415.2 634.3,413.8 636.9,412.4 639.6,411.0 642.2,409.6 644.9,408.2 647.5,406.8 650.2,405.4 652.8,404.0 655.5,402.5 658.1,401.1 660.7,399.7 663.4,398.2 666.0,396.8 668.6,395.3 671.3,393.9 673.9,392.4 676.5,390.9 679.1,389.4 681.7,387.9 684.3,386.4 686.9,384.9 689.5,383.4 692.0,381.9 694.6,380.3 697.2,378.7 699.7,377.2 702.2,375.6 704.8,374.0 707.3,372.3 709.8,370.7 712.3,369.0 714.8,367.4 717.3,365.7 719.8,364.0 722.2,362.3 724.7,360.6 727.2,358.9 729.6,357.2 732.1,355.5 734.6,353.8 737.1,352.1 739.5,350.4 742.0,348.7 744.5,347.0 747.0,345.3 749.5,343.6 751.9,342.0 754.4,340.3 756.9,338.6 759.4,337.0 761.9,335.3 764.4,333.7 766.9,332.0 769.5,330.4 772.0,328.7 774.5,327.1 777.0,325.4 779.5,323.8 782.0,322.1 784.5,320.5 787.0,318.8 789.5,317.2 792.0,315.5 794.5,313.9 797.0,312.2 799.5,310.6 802.0,308.9 804.5,307.2 807.0,305.6 809.5,303.9 812.0,302.2 814.5,300.6 817.0,298.9 819.5,297.2 822.0,295.5 824.4,293.9 826.9,292.2 829.4,290.5 831.9,288.9 834.4,287.2 836.9,285.6 839.5,283.9 842.0,282.3 844.5,280.6 847.0,279.0 849.5,277.4 852.1,275.8 854.6,274.1 857.2,272.5 859.7,270.9 862.2,269.3 864.8,267.6 867.3,266.0 869.9,264.4 872.5,262.8 875.0,261.3 877.6,259.7 880.2,258.2 882.8,256.7 885.5,255.3 888.1,253.9 890.7,252.5 893.4,251.2 896.1,250.0 898.8,248.7 901.5,247.6 904.3,246.4 907.1,245.3 909.8,244.2 912.7,243.2 915.5,242.2 918.3,241.2 921.2,240.2 924.1,239.3 926.9,238.4 929.8,237.5 932.7,236.7 935.6,236.0 938.6,235.3 941.5,234.6 944.4,234.1 947.4,233.5 950.3,233.1 953.3,232.7 956.3,232.4 959.3,232.1 962.2,232.0 965.2,231.9 968.2,231.9 971.2,232.0 974.3,232.2 977.3,232.4 980.2,232.7 983.2,233.0 986.2,233.4 989.1,233.9 992.1,234.4 995.0,235.0 997.8,235.7 1000.7,236.5 1003.5,237.4 1006.3,238.4 1009.0,239.5 1011.7,240.7 1014.4,241.9 1017.1,243.3 1019.8,244.6 1022.5,246.0 1025.2,247.4 1027.9,248.8 1030.5,250.3 1033.2,251.7 1035.9,253.1 1038.5,254.5 1041.1,256.0 1043.7,257.4 1046.3,258.9 1048.9,260.5 1051.4,262.1 1053.9,263.7 1056.4,265.4 1058.8,267.2 1061.3,269.0 1063.7,270.8 1066.1,272.6 1068.4,274.5 1070.8,276.4 1073.2,278.3 1075.5,280.2 1077.9,282.0 1080.3,283.9 1082.7,285.7 1085.1,287.5 1087.5,289.3 1089.9,290.9 1092.4,292.6 1095.0,294.1 1097.5,295.6 1100.1,297.1 1102.7,298.5 1105.4,299.8 1108.1,301.0 1110.9,302.2 1113.7,303.3 1116.5,304.3 1119.3,305.2 1122.2,306.1 1125.0,306.8 1127.9,307.5 1130.9,308.1 1133.8,308.7 1136.7,309.2 1139.7,309.7 1142.7,310.1 1145.6,310.5 1146.6,310.6 1147.6,310.8 1148.6,310.9 1149.6,311.0 1150.5,311.1 1151.5,311.2 1152.5,311.3 1153.5,311.5 1154.5,311.6 1155.5,311.7 1156.4,311.8 1157.4,311.9 1158.4,312.0 1157.0,313.5 1156.7,315.0 1156.3,316.5 1156.0,318.0 1155.7,319.5 1155.4,321.0 1155.2,322.5 1154.9,324.0 1154.7,325.5 1154.4,327.0 1154.2,328.5 1153.9,330.0 1153.7,331.5 1153.4,333.0 1153.1,334.5 1152.8,336.0 1152.6,337.5 1152.2,339.0 1151.9,340.5 1151.6,342.0 1151.2,343.5 1150.9,345.0 1150.5,346.5 1150.1,348.0 1149.7,349.5 1149.2,351.0 1148.8,352.5 1148.3,354.0 1147.9,355.5 1147.4,357.0 1147.0,358.5 1146.6,360.0 1146.1,361.5 1145.7,363.0 1145.3,364.5 1145.0,366.0 1144.7,367.5 1144.4,369.0 1144.2,370.5 1144.0,372.0 1143.8,373.5 1143.6,375.0 1143.3,376.5 1142.8,378.0 1142.2,379.5 1141.5,381.0 1140.6,382.5 1139.6,384.0 1138.5,385.5 1137.4,387.0 1136.2,388.5 1134.9,390.0 1133.7,391.5 1132.4,393.0 1131.1,394.5 1129.8,396.0 1128.5,397.5 1127.2,399.0 1125.8,400.5 1124.4,402.0 1123.0,403.5 1121.6,405.0 1120.1,406.5 1118.5,408.0 1116.9,409.5 1115.2,411.0 1113.5,412.5 1111.7,414.0 1109.8,415.5 1107.8,417.0 1105.7,418.5 1103.5,420.0 1101.1,421.5 1098.6,423.0 1095.9,424.5 1093.0,426.0 1089.8,427.5 1086.2,429.0 1082.2,430.5 1077.7,432.0 1072.9,433.5 1067.6,435.0 1062.0,436.5 1060.0,436.9 1059.0,437.1 1058.0,437.3 1056.0,437.7 1054.0,438.1 1053.0,438.3 1052.0,438.5 1050.0,439.0 1048.0,439.6 1047.0,439.9 1046.0,440.2 1044.0,440.9 1042.0,441.8 1041.0,442.2 1040.0,442.7 1038.0,443.7 1036.0,444.7 1035.0,445.3 1034.0,445.9 1032.0,447.0 1030.0,448.2 1029.0,448.8 1028.0,449.4 1026.0,450.5 1024.0,451.7 1023.0,452.2 1022.0,452.8 1020.0,453.9 1018.0,454.9 1017.0,455.3 1016.0,455.8 1014.0,456.7 1012.0,457.5 1011.0,457.9 1010.0,458.3 1008.0,459.0 1006.0,459.8 1005.0,460.1 1004.0,460.5 1002.0,461.3 1000.0,462.0 999.0,462.4 998.0,462.8 996.0,463.6 994.0,464.5 993.0,464.9 992.0,465.4 990.0,466.4 988.0,467.4 987.0,468.0 986.0,468.6 984.0,470.0 982.0,471.5 981.0,472.3 980.0,473.1 978.0,474.8 976.0,476.6 975.0,477.6 974.0,478.5 972.0,480.4 970.0,482.4 969.0,483.4 968.0,484.4 966.0,486.4 964.0,488.5 963.0,489.6 962.0,490.6 960.0,492.6 958.0,494.6 957.0,495.5 956.0,496.4 954.0,498.1 952.0,499.7 951.0,500.4 950.0,501.0 948.0,502.3 946.0,503.4 945.0,503.9 944.0,504.5 942.0,505.6 940.0,506.7 939.0,507.3 938.0,507.9 936.0,509.1 934.0,510.4 933.0,511.0 932.0,511.7 930.0,513.0 928.0,514.3 927.0,515.0 926.0,515.7 924.0,517.0 922.0,518.4 921.0,519.0 920.0,519.7 918.0,520.9 916.0,522.2 915.0,522.8 914.0,523.4 912.0,524.6 910.0,525.7 909.0,526.3 908.0,526.8 906.0,527.9 904.0,529.0 903.0,529.5 902.0,530.0 900.0,531.0 897.0,532.5 894.0,533.9 891.0,535.2 888.0,536.5 885.0,537.7 882.0,538.8 879.0,539.8 876.0,540.8 873.0,541.6 870.0,542.4 867.0,543.1 864.0,543.8 861.0,544.4 858.0,545.0 855.0,545.5 852.0,546.0 849.0,546.5 846.0,547.0 843.0,547.4 840.0,547.9 837.0,548.3 834.0,548.7 831.0,549.1 828.0,549.5 825.0,549.9 822.0,550.3 819.0,550.6 816.0,551.0 813.0,551.4 810.0,551.8 807.0,552.1 804.0,552.5 801.0,552.8 798.0,553.2 795.0,553.5 792.0,553.8 789.0,554.0 786.0,554.2 783.0,554.5 780.0,554.6 777.0,554.8 774.0,554.9 771.0,555.0 768.0,555.1 765.0,555.1 762.0,555.2 759.0,555.2 756.0,555.3 753.0,555.3 750.0,555.3 747.0,555.3 744.0,555.4 741.0,555.4 738.0,555.4 735.0,555.5 732.0,555.5 729.0,555.5 726.0,555.6 723.0,555.6 720.0,555.7 717.0,555.7 714.0,555.8 711.0,556.0 708.0,556.1 705.0,556.3 702.0,556.6 699.0,556.9 696.0,557.3 693.0,557.7 690.0,558.2 687.0,558.7 684.0,559.3 681.0,559.9 678.0,560.5 675.0,561.1 672.0,561.7 669.0,562.3 666.0,563.0 663.0,563.6 660.0,564.2 657.0,564.8 654.0,565.5 651.0,566.1 648.0,566.8 645.0,567.5 642.0,568.1 639.0,568.8 636.0,569.5 633.0,570.2 630.0,570.9 627.0,571.5 624.0,572.2 621.0,572.8 618.0,573.4 615.0,574.0 612.0,574.6 609.0,575.1 606.0,575.7 603.0,576.2 600.0,576.8 597.0,577.3 594.0,577.8 591.0,578.3 588.0,578.8 585.0,579.3 582.0,579.7 579.0,580.1 576.0,580.4 573.0,580.7 570.0,581.0 567.0,581.2 564.0,581.3 561.0,581.4 558.0,581.5 555.0,581.4 552.0,581.4 549.0,581.3 546.0,581.1 543.0,580.9 540.0,580.7 537.0,580.5 534.0,580.2 531.0,579.9 528.0,579.7 525.0,579.4 522.0,579.1 519.0,578.7 516.0,578.4 513.0,578.1 510.0,577.8 507.0,577.5 504.0,577.2 501.0,576.9 498.0,576.6 495.0,576.3 492.0,575.9 489.0,575.6 486.0,575.3 483.0,575.0 480.0,574.7 477.0,574.4 474.0,574.1 471.0,573.8 468.0,573.6 465.0,573.4 462.0,573.2 459.0,573.1 456.0,573.0 453.0,572.9 450.0,572.8 447.0,572.7 444.0,572.7 441.0,572.7 438.0,572.6 435.0,572.7 432.0,572.9 429.4,573.0Z" stroke="#ff22e6"/>
<path d="M429.4,590.5 430.1,588.6 430.4,587.7 430.7,586.7 431.3,584.8 431.9,582.9 432.2,582.0 432.5,581.0 433.1,579.1 433.6,577.1 433.8,576.2 434.1,575.2 434.5,573.3 435.0,571.3 435.2,570.3 435.5,569.4 435.9,567.4 436.4,565.5 436.7,564.5 436.9,563.5 437.4,561.6 437.9,559.6 438.1,558.6 438.3,557.6 438.7,555.7 439.0,553.7 439.2,552.7 439.3,551.8 439.4,549.8 439.6,547.8 439.6,546.8 439.7,545.8 439.7,543.8 439.8,541.8 439.8,540.8 439.8,539.8 439.9,537.8 439.9,535.8 440.0,534.8 440.0,533.8 440.0,531.8 440.1,529.8 440.1,528.8 440.1,527.8 440.2,525.8 440.2,523.8 440.3,522.8 440.3,521.8 440.4,519.8 440.5,517.8 440.5,516.8 440.5,515.8 440.6,513.8 440.7,511.8 440.8,510.8 440.8,509.8 441.0,507.8 441.1,505.8 441.2,504.8 441.3,503.8 441.4,501.8 441.6,499.8 441.7,498.8 441.8,497.8 442.0,495.8 442.3,493.8 442.5,492.9 442.7,491.9 443.2,490.1 444.0,488.4 444.5,487.5 445.0,486.7 446.2,485.0 447.5,483.4 448.3,482.7 449.0,481.9 450.5,480.5 452.1,479.2 452.9,478.6 453.7,478.0 455.4,476.9 457.9,475.4 460.6,474.1 463.4,472.8 466.2,471.6 469.0,470.4 471.7,469.3 474.5,468.3 477.4,467.2 480.2,466.2 483.0,465.2 485.8,464.2 488.7,463.2 491.5,462.3 494.4,461.3 497.2,460.3 500.0,459.3 502.9,458.3 505.7,457.3 508.5,456.3 511.4,455.4 514.2,454.4 517.0,453.4 519.9,452.4 522.7,451.4 525.5,450.5 528.4,449.5 531.3,448.6 534.1,447.7 537.0,446.9 539.9,446.1 542.8,445.4 545.7,444.7 548.6,444.1 551.6,443.6 554.5,443.0 557.5,442.5 560.4,442.0 563.4,441.5 566.3,441.0 569.2,440.4 572.1,439.8 575.0,439.0 577.9,438.3 580.7,437.4 583.6,436.4 586.4,435.4 589.1,434.3 591.9,433.1 594.7,431.9 597.4,430.7 600.2,429.4 602.9,428.1 605.6,426.8 608.3,425.5 611.0,424.1 613.6,422.8 616.3,421.4 619.0,420.0 621.6,418.6 624.3,417.2 626.9,415.7 629.5,414.3 632.1,412.8 634.7,411.3 637.4,409.8 640.0,408.3 642.6,406.8 645.2,405.3 647.7,403.8 650.3,402.3 652.9,400.8 655.5,399.2 658.1,397.7 660.7,396.2 663.3,394.6 665.8,393.1 668.4,391.6 671.0,390.0 673.5,388.4 676.1,386.9 678.6,385.3 681.2,383.7 683.7,382.1 686.3,380.5 688.8,378.9 691.3,377.2 693.8,375.6 696.3,373.9 698.8,372.3 701.3,370.6 703.7,368.9 706.2,367.2 708.6,365.4 711.1,363.7 713.5,361.9 715.9,360.2 718.3,358.4 720.7,356.6 723.1,354.8 725.5,353.0 727.9,351.2 730.3,349.4 732.7,347.6 735.1,345.8 737.5,344.0 740.0,342.2 742.4,340.4 744.8,338.6 747.2,336.8 749.6,335.1 752.0,333.3 754.5,331.5 756.9,329.8 759.4,328.0 761.8,326.3 764.3,324.6 766.7,322.8 769.2,321.1 771.6,319.4 774.1,317.7 776.5,315.9 779.0,314.2 781.4,312.5 783.9,310.8 786.3,309.0 788.8,307.3 791.2,305.6 793.7,303.8 796.1,302.1 798.6,300.4 801.0,298.6 803.5,296.9 805.9,295.1 808.3,293.4 810.8,291.6 813.2,289.9 815.6,288.1 818.1,286.4 820.5,284.6 822.9,282.8 825.4,281.1 827.8,279.3 830.2,277.6 832.7,275.8 835.1,274.1 837.6,272.4 840.0,270.6 842.5,268.9 844.9,267.2 847.4,265.4 849.8,263.7 852.3,262.0 854.8,260.3 857.2,258.5 859.7,256.8 862.2,255.1 864.6,253.4 867.1,251.7 869.6,250.0 872.1,248.3 874.6,246.6 877.1,244.9 879.6,243.2 882.1,241.6 884.6,240.0 887.2,238.4 889.8,236.9 892.3,235.4 894.9,233.9 897.5,232.5 900.2,231.0 902.8,229.6 905.5,228.3 908.1,226.9 910.8,225.6 913.5,224.2 916.3,222.9 919.0,221.7 921.8,220.4 924.5,219.2 927.3,218.0 930.1,216.9 932.9,215.8 935.7,214.8 938.6,213.8 941.4,212.9 944.2,212.0 947.1,211.2 950.0,210.4 952.9,209.7 955.8,209.0 958.7,208.4 961.7,207.8 964.6,207.2 967.6,206.8 970.5,206.4 973.5,206.1 976.5,205.8 979.5,205.7 982.5,205.6 985.4,205.7 988.4,205.9 991.4,206.1 994.3,206.5 997.3,207.0 1000.2,207.5 1003.1,208.2 1005.9,209.0 1008.8,209.8 1011.6,210.8 1014.5,211.8 1017.3,212.8 1020.1,213.9 1022.9,215.1 1025.6,216.2 1028.4,217.4 1031.2,218.6 1033.9,219.8 1036.7,221.0 1039.4,222.3 1042.1,223.5 1044.8,224.9 1047.5,226.2 1050.1,227.6 1052.7,229.0 1055.3,230.5 1057.8,232.0 1060.4,233.6 1062.9,235.2 1065.4,236.9 1067.9,238.6 1070.3,240.3 1072.8,242.0 1075.2,243.8 1077.7,245.5 1080.1,247.3 1082.5,249.1 1085.0,250.9 1087.4,252.6 1089.8,254.4 1092.3,256.2 1094.7,257.9 1097.2,259.7 1099.7,261.4 1102.1,263.1 1104.6,264.9 1107.1,266.5 1109.6,268.2 1112.1,269.9 1114.6,271.5 1117.2,273.0 1119.8,274.5 1122.4,275.9 1125.0,277.3 1127.7,278.6 1130.5,279.8 1133.2,281.0 1136.0,282.1 1138.8,283.1 1141.6,284.0 1144.4,284.9 1147.2,285.6 1148.2,285.8 1149.1,286.1 1150.0,286.3 1151.0,286.5 1151.9,286.7 1152.8,286.9 1153.8,287.1 1154.7,287.3 1155.6,287.5 1156.5,287.6 1157.5,287.8 1158.4,288.0 1158.2,289.5 1158.1,291.0 1157.8,292.5 1157.5,294.0 1157.2,295.5 1156.8,297.0 1156.3,298.5 1155.8,300.0 1155.3,301.5 1154.8,303.0 1154.3,304.5 1153.8,306.0 1153.3,307.5 1152.9,309.0 1152.5,310.5 1152.0,312.0 1151.6,313.5 1151.3,315.0 1150.9,316.5 1150.5,318.0 1150.2,319.5 1149.9,321.0 1149.6,322.5 1149.3,324.0 1149.0,325.5 1148.7,327.0 1148.4,328.5 1148.1,330.0 1147.8,331.5 1147.5,333.0 1147.2,334.5 1146.9,336.0 1146.5,337.5 1146.2,339.0 1145.8,340.5 1145.4,342.0 1145.0,343.5 1144.6,345.0 1144.2,346.5 1143.8,348.0 1143.3,349.5 1142.8,351.0 1142.3,352.5 1141.8,354.0 1141.3,355.5 1140.8,357.0 1140.3,358.5 1139.8,360.0 1139.3,361.5 1138.9,363.0 1138.4,364.5 1138.0,366.0 1137.6,367.5 1137.2,369.0 1136.9,370.5 1136.6,372.0 1136.3,373.5 1135.9,375.0 1135.5,376.5 1135.0,378.0 1134.3,379.5 1133.5,381.0 1132.6,382.5 1131.5,384.0 1130.4,385.5 1129.2,387.0 1128.0,388.5 1126.8,390.0 1125.5,391.5 1124.3,393.0 1123.0,394.5 1121.6,396.0 1120.3,397.5 1118.9,399.0 1117.5,400.5 1116.1,402.0 1114.7,403.5 1113.2,405.0 1111.7,406.5 1110.1,408.0 1108.5,409.5 1106.8,411.0 1105.1,412.5 1103.3,414.0 1101.4,415.5 1099.5,417.0 1097.4,418.5 1095.3,420.0 1093.0,421.5 1090.6,423.0 1088.0,424.5 1085.2,426.0 1082.2,427.5 1078.8,429.0 1075.1,430.5 1071.0,432.0 1066.5,433.5 1061.7,435.0 1059.7,435.5 1058.7,435.8 1057.7,436.0 1055.7,436.5 1053.7,436.9 1052.7,437.2 1051.7,437.4 1049.7,438.0 1047.7,438.7 1046.7,439.0 1045.7,439.4 1043.7,440.2 1041.7,441.1 1040.7,441.6 1039.7,442.1 1037.7,443.1 1035.7,444.2 1034.7,444.8 1033.7,445.4 1031.7,446.6 1029.7,447.8 1028.7,448.4 1027.7,449.0 1025.7,450.2 1023.7,451.4 1022.7,452.0 1021.7,452.6 1019.7,453.7 1017.7,454.7 1016.7,455.2 1015.7,455.7 1013.7,456.7 1011.7,457.6 1010.7,458.0 1009.7,458.4 1007.7,459.3 1005.7,460.1 1004.7,460.5 1003.7,460.9 1001.7,461.8 999.7,462.7 998.7,463.1 997.7,463.6 995.7,464.6 993.7,465.6 992.7,466.1 991.7,466.6 989.7,467.8 987.7,469.0 986.7,469.7 985.7,470.4 983.7,472.0 981.7,473.7 980.7,474.6 979.7,475.6 977.7,477.5 975.7,479.5 974.7,480.6 973.7,481.6 971.7,483.7 969.7,485.8 968.7,486.9 967.7,488.0 965.7,490.1 963.7,492.3 962.7,493.5 961.7,494.6 959.7,496.7 957.7,498.9 956.7,499.9 955.7,501.0 953.7,502.9 951.7,504.8 950.7,505.8 949.7,506.7 947.7,508.4 945.7,510.0 944.7,510.8 943.7,511.6 941.7,513.1 939.7,514.6 938.7,515.3 937.7,516.1 935.7,517.5 933.7,518.9 932.7,519.6 931.7,520.3 929.7,521.6 927.7,523.0 926.7,523.7 925.7,524.3 923.7,525.6 921.7,526.9 920.7,527.5 919.7,528.2 917.7,529.4 915.7,530.7 914.7,531.3 913.7,531.9 911.7,533.1 909.7,534.3 908.7,534.9 907.7,535.5 905.7,536.7 903.7,537.9 902.7,538.5 901.7,539.1 899.7,540.3 896.7,542.0 893.7,543.7 890.7,545.4 887.7,546.9 884.7,548.4 881.7,549.8 878.7,551.0 875.7,552.2 872.7,553.2 869.7,554.2 866.7,555.1 863.7,555.8 860.7,556.6 857.7,557.3 854.7,557.9 851.7,558.5 848.7,559.1 845.7,559.7 842.7,560.2 839.7,560.7 836.7,561.2 833.7,561.7 830.7,562.2 827.7,562.7 824.7,563.2 821.7,563.7 818.7,564.2 815.7,564.8 812.7,565.3 809.7,565.8 806.7,566.3 803.7,566.8 800.7,567.3 797.7,567.7 794.7,568.1 791.7,568.5 788.7,568.9 785.7,569.2 782.7,569.4 779.7,569.6 776.7,569.7 773.7,569.8 770.7,569.9 767.7,570.0 764.7,570.0 761.7,570.0 758.7,570.0 755.7,570.0 752.7,570.0 749.7,570.0 746.7,570.0 743.7,570.0 740.7,570.0 737.7,570.0 734.7,570.0 731.7,570.0 728.7,570.0 725.7,570.0 722.7,570.0 719.7,570.0 716.7,570.1 713.7,570.1 710.7,570.2 707.7,570.3 704.7,570.5 701.7,570.7 698.7,571.0 695.7,571.4 692.7,571.8 689.7,572.3 686.7,572.8 683.7,573.4 680.7,574.0 677.7,574.6 674.7,575.2 671.7,575.8 668.7,576.5 665.7,577.1 662.7,577.7 659.7,578.4 656.7,579.0 653.7,579.6 650.7,580.3 647.7,580.9 644.7,581.6 641.7,582.3 638.7,583.0 635.7,583.7 632.7,584.3 629.7,585.0 626.7,585.7 623.7,586.3 620.7,587.0 617.7,587.6 614.7,588.2 611.7,588.8 608.7,589.4 605.7,590.0 602.7,590.6 599.7,591.2 596.7,591.8 593.7,592.3 590.7,592.9 587.7,593.5 584.7,594.0 581.7,594.5 578.7,594.9 575.7,595.3 572.7,595.6 569.7,595.9 566.7,596.2 563.7,596.3 560.7,596.4 557.7,596.5 554.7,596.5 551.7,596.5 548.7,596.4 545.7,596.3 542.7,596.2 539.7,596.1 536.7,596.0 533.7,595.8 530.7,595.6 527.7,595.5 524.7,595.3 521.7,595.1 518.7,594.9 515.7,594.7 512.7,594.5 509.7,594.3 506.7,594.1 503.7,593.9 500.7,593.7 497.7,593.5 494.7,593.3 491.7,593.1 488.7,592.9 485.7,592.7 482.7,592.4 479.7,592.2 476.7,592.0 473.7,591.8 470.7,591.6 467.7,591.4 464.7,591.3 461.7,591.2 458.7,591.0 455.7,590.9 452.7,590.9 449.7,590.8 446.7,590.7 443.7,590.7 440.7,590.6 437.7,590.6 434.7,590.5 431.7,590.5 429.4,590.5Z" stroke="#008c32"/>
<path d="M429.4,607.0 430.1,605.1 430.4,604.2 430.7,603.2 431.3,601.3 432.0,599.4 432.2,598.5 432.5,597.5 433.1,595.6 433.6,593.6 433.9,592.7 434.1,591.7 434.6,589.8 435.0,587.8 435.2,586.8 435.4,585.9 435.7,583.9 436.1,581.9 436.2,580.9 436.4,580.0 436.7,578.0 436.9,576.0 437.1,575.0 437.2,574.0 437.5,572.0 437.7,570.0 437.9,569.0 438.0,568.0 438.2,566.1 438.4,564.1 438.5,563.1 438.6,562.1 438.8,560.1 439.0,558.1 439.1,557.1 439.1,556.1 439.3,554.1 439.4,552.1 439.4,551.1 439.5,550.1 439.6,548.1 439.6,546.1 439.7,545.1 439.7,544.1 439.8,542.1 439.8,540.1 439.8,539.1 439.9,538.1 439.9,536.1 440.0,534.1 440.0,533.1 440.0,532.1 440.1,530.1 440.1,528.1 440.1,527.1 440.2,526.1 440.2,524.1 440.3,522.1 440.3,521.1 440.4,520.1 440.4,518.1 440.5,516.1 440.6,515.1 440.6,514.1 440.7,512.1 440.8,510.1 440.9,509.1 440.9,508.1 441.1,506.1 441.2,504.1 441.3,503.1 441.4,502.1 441.6,500.1 441.8,498.1 441.9,497.1 442.0,496.1 442.4,494.2 442.8,492.3 443.1,491.4 443.4,490.5 444.3,488.8 446.0,486.4 448.1,484.1 450.5,482.0 452.9,480.1 455.4,478.4 457.9,476.9 460.6,475.6 463.4,474.3 466.2,473.1 468.9,471.9 471.7,470.8 474.5,469.8 477.4,468.7 480.2,467.7 483.0,466.7 485.8,465.7 488.7,464.7 491.5,463.8 494.4,462.8 497.2,461.8 500.0,460.8 502.9,459.9 505.7,458.9 508.5,457.9 511.3,456.9 514.2,455.8 517.0,454.8 519.8,453.7 522.6,452.6 525.4,451.5 528.2,450.4 531.0,449.3 533.8,448.2 536.6,447.2 539.4,446.3 542.2,445.4 545.1,444.5 548.0,443.8 550.9,443.1 553.8,442.5 556.8,441.9 559.7,441.4 562.6,440.8 565.6,440.3 568.5,439.6 571.4,439.0 574.3,438.2 577.1,437.4 580.0,436.5 582.8,435.6 585.6,434.5 588.4,433.4 591.1,432.2 593.9,431.0 596.6,429.7 599.3,428.4 602.0,427.0 604.7,425.7 607.3,424.3 610.0,422.9 612.6,421.4 615.2,420.0 617.9,418.5 620.5,417.0 623.0,415.5 625.6,413.9 628.2,412.4 630.7,410.8 633.3,409.2 635.8,407.6 638.4,406.0 640.9,404.4 643.4,402.8 646.0,401.2 648.5,399.6 651.1,398.0 653.6,396.4 656.1,394.8 658.7,393.2 661.2,391.5 663.8,389.9 666.3,388.3 668.8,386.7 671.4,385.1 673.9,383.5 676.4,381.9 678.9,380.2 681.4,378.6 683.9,376.9 686.4,375.3 688.9,373.6 691.4,371.9 693.9,370.2 696.3,368.5 698.8,366.8 701.2,365.1 703.7,363.3 706.1,361.6 708.5,359.8 710.9,358.0 713.3,356.2 715.7,354.4 718.1,352.6 720.5,350.8 722.8,348.9 725.2,347.1 727.6,345.2 730.0,343.4 732.3,341.5 734.7,339.7 737.0,337.8 739.4,336.0 741.7,334.1 744.1,332.2 746.5,330.4 748.8,328.5 751.2,326.7 753.5,324.8 755.9,323.0 758.3,321.1 760.6,319.3 763.0,317.4 765.3,315.6 767.7,313.7 770.1,311.8 772.4,310.0 774.8,308.1 777.1,306.3 779.5,304.4 781.8,302.5 784.2,300.7 786.5,298.8 788.9,296.9 791.2,295.0 793.5,293.2 795.9,291.3 798.2,289.4 800.5,287.5 802.8,285.6 805.2,283.7 807.5,281.8 809.8,279.9 812.1,277.9 814.4,276.0 816.7,274.1 819.0,272.1 821.3,270.2 823.6,268.3 825.9,266.4 828.2,264.4 830.5,262.5 832.8,260.6 835.2,258.7 837.5,256.8 839.8,255.0 842.2,253.1 844.5,251.2 846.9,249.4 849.3,247.6 851.7,245.8 854.0,243.9 856.4,242.1 858.9,240.3 861.3,238.6 863.7,236.8 866.1,235.0 868.6,233.2 871.0,231.5 873.5,229.8 876.0,228.0 878.4,226.3 880.9,224.7 883.4,223.0 886.0,221.4 888.5,219.8 891.0,218.2 893.6,216.6 896.2,215.1 898.7,213.6 901.3,212.1 903.9,210.6 906.6,209.2 909.2,207.7 911.9,206.3 914.5,204.9 917.2,203.5 919.9,202.1 922.6,200.8 925.4,199.5 928.1,198.2 930.8,197.0 933.6,195.8 936.4,194.7 939.2,193.6 942.0,192.6 944.8,191.6 947.6,190.7 950.5,189.9 953.4,189.0 956.2,188.2 959.1,187.5 962.0,186.8 965.0,186.1 967.9,185.5 970.9,184.9 973.8,184.4 976.8,184.0 979.8,183.6 982.8,183.4 985.7,183.2 988.7,183.2 991.7,183.3 994.6,183.4 997.6,183.7 1000.6,184.1 1003.5,184.6 1006.4,185.1 1009.3,185.8 1012.3,186.5 1015.2,187.3 1018.0,188.1 1020.9,188.9 1023.8,189.8 1026.6,190.7 1029.5,191.7 1032.3,192.7 1035.1,193.7 1037.9,194.8 1040.7,195.9 1043.5,197.1 1046.2,198.3 1048.9,199.5 1051.6,200.8 1054.3,202.1 1057.0,203.4 1059.6,204.8 1062.2,206.3 1064.8,207.7 1067.4,209.3 1070.0,210.8 1072.5,212.4 1075.1,214.0 1077.6,215.6 1080.2,217.2 1082.7,218.9 1085.2,220.5 1087.7,222.2 1090.2,223.9 1092.7,225.5 1095.2,227.2 1097.7,228.9 1100.2,230.6 1102.6,232.3 1105.1,234.0 1107.6,235.8 1110.0,237.5 1112.5,239.2 1115.0,240.9 1117.5,242.6 1119.9,244.3 1122.4,245.9 1125.0,247.6 1127.5,249.2 1130.0,250.8 1132.6,252.3 1135.2,253.8 1137.8,255.3 1140.5,256.7 1143.1,258.0 1145.8,259.2 1146.7,259.6 1147.6,260.0 1148.5,260.3 1149.4,260.7 1150.3,261.0 1151.2,261.4 1152.1,261.7 1153.0,262.1 1153.9,262.4 1154.8,262.7 1155.7,263.0 1156.6,263.4 1157.5,263.7 1158.4,264.0 1158.4,265.5 1158.4,267.0 1158.4,268.5 1158.4,270.0 1158.4,271.5 1158.4,273.0 1158.3,274.5 1158.3,276.0 1158.2,277.5 1158.0,279.0 1157.8,280.5 1157.5,282.0 1157.2,283.5 1156.8,285.0 1156.4,286.5 1155.9,288.0 1155.5,289.5 1155.0,291.0 1154.5,292.5 1153.9,294.0 1153.4,295.5 1152.9,297.0 1152.4,298.5 1151.8,300.0 1151.3,301.5 1150.8,303.0 1150.3,304.5 1149.8,306.0 1149.3,307.5 1148.8,309.0 1148.4,310.5 1147.9,312.0 1147.5,313.5 1147.1,315.0 1146.7,316.5 1146.4,318.0 1146.0,319.5 1145.6,321.0 1145.3,322.5 1145.0,324.0 1144.6,325.5 1144.3,327.0 1144.0,328.5 1143.7,330.0 1143.3,331.5 1143.0,333.0 1142.7,334.5 1142.3,336.0 1141.9,337.5 1141.6,339.0 1141.2,340.5 1140.8,342.0 1140.3,343.5 1139.9,345.0 1139.4,346.5 1138.9,348.0 1138.4,349.5 1137.9,351.0 1137.4,352.5 1136.9,354.0 1136.3,355.5 1135.8,357.0 1135.2,358.5 1134.7,360.0 1134.1,361.5 1133.6,363.0 1133.1,364.5 1132.6,366.0 1132.1,367.5 1131.7,369.0 1131.3,370.5 1130.9,372.0 1130.5,373.5 1130.1,375.0 1129.6,376.5 1129.0,378.0 1128.2,379.5 1127.4,381.0 1126.4,382.5 1125.4,384.0 1124.2,385.5 1123.1,387.0 1121.8,388.5 1120.6,390.0 1119.3,391.5 1118.0,393.0 1116.7,394.5 1115.4,396.0 1114.0,397.5 1112.6,399.0 1111.2,400.5 1109.8,402.0 1108.3,403.5 1106.8,405.0 1105.3,406.5 1103.7,408.0 1102.1,409.5 1100.4,411.0 1098.7,412.5 1096.9,414.0 1095.1,415.5 1093.1,417.0 1091.1,418.5 1089.0,420.0 1086.8,421.5 1084.5,423.0 1082.0,424.5 1079.3,426.0 1076.4,427.5 1073.2,429.0 1069.7,430.5 1065.9,432.0 1061.7,433.5 1059.7,434.0 1058.7,434.2 1057.7,434.3 1055.7,434.7 1053.7,435.0 1052.7,435.2 1051.7,435.4 1049.7,435.9 1047.7,436.4 1046.7,436.7 1045.7,437.1 1043.7,437.8 1041.7,438.7 1040.7,439.2 1039.7,439.8 1037.7,440.9 1035.7,442.1 1034.7,442.7 1033.7,443.3 1031.7,444.7 1029.7,446.0 1028.7,446.7 1027.7,447.4 1025.7,448.8 1023.7,450.2 1022.7,450.8 1021.7,451.5 1019.7,452.8 1017.7,454.0 1016.7,454.6 1015.7,455.2 1013.7,456.3 1011.7,457.4 1010.7,458.0 1009.7,458.5 1007.7,459.5 1005.7,460.6 1004.7,461.1 1003.7,461.6 1001.7,462.6 999.7,463.7 998.7,464.2 997.7,464.7 995.7,465.7 993.7,466.8 992.7,467.4 991.7,468.0 989.7,469.2 987.7,470.5 986.7,471.3 985.7,472.0 983.7,473.7 981.7,475.6 980.7,476.5 979.7,477.6 977.7,479.6 975.7,481.8 974.7,482.9 973.7,484.0 971.7,486.1 969.7,488.3 968.7,489.4 967.7,490.5 965.7,492.6 963.7,494.8 962.7,495.9 961.7,497.0 959.7,499.2 957.7,501.4 956.7,502.5 955.7,503.6 953.7,505.8 951.7,508.0 950.7,509.1 949.7,510.2 947.7,512.4 945.7,514.6 944.7,515.7 943.7,516.7 941.7,518.7 939.7,520.6 938.7,521.5 937.7,522.4 935.7,524.1 933.7,525.7 932.7,526.5 931.7,527.3 929.7,528.8 927.7,530.3 926.7,531.0 925.7,531.7 923.7,533.2 921.7,534.5 920.7,535.2 919.7,535.9 917.7,537.3 915.7,538.6 914.7,539.3 913.7,540.0 911.7,541.3 909.7,542.7 908.7,543.3 907.7,544.0 905.7,545.4 903.7,546.7 902.7,547.4 901.7,548.0 899.7,549.4 896.7,551.3 893.7,553.3 890.7,555.2 887.7,556.9 884.7,558.6 881.7,560.2 878.7,561.6 875.7,562.9 872.7,564.1 869.7,565.1 866.7,566.1 863.7,566.9 860.7,567.7 857.7,568.4 854.7,569.1 851.7,569.8 848.7,570.4 845.7,571.0 842.7,571.5 839.7,572.1 836.7,572.7 833.7,573.2 830.7,573.8 827.7,574.4 824.7,575.0 821.7,575.6 818.7,576.3 815.7,576.9 812.7,577.6 809.7,578.3 806.7,579.0 803.7,579.7 800.7,580.3 797.7,581.0 794.7,581.5 791.7,582.1 788.7,582.6 785.7,583.0 782.7,583.3 779.7,583.6 776.7,583.8 773.7,583.9 770.7,584.0 767.7,584.1 764.7,584.1 761.7,584.1 758.7,584.0 755.7,584.0 752.7,583.9 749.7,583.9 746.7,583.8 743.7,583.8 740.7,583.7 737.7,583.7 734.7,583.6 731.7,583.6 728.7,583.5 725.7,583.5 722.7,583.4 719.7,583.4 716.7,583.4 713.7,583.5 710.7,583.5 707.7,583.6 704.7,583.8 701.7,584.0 698.7,584.3 695.7,584.7 692.7,585.1 689.7,585.6 686.7,586.1 683.7,586.7 680.7,587.3 677.7,587.9 674.7,588.5 671.7,589.2 668.7,589.8 665.7,590.5 662.7,591.1 659.7,591.8 656.7,592.4 653.7,593.1 650.7,593.8 647.7,594.5 644.7,595.2 641.7,595.9 638.7,596.7 635.7,597.4 632.7,598.1 629.7,598.9 626.7,599.6 623.7,600.3 620.7,601.0 617.7,601.6 614.7,602.3 611.7,602.9 608.7,603.5 605.7,604.1 602.7,604.7 599.7,605.3 596.7,605.9 593.7,606.5 590.7,607.0 587.7,607.6 584.7,608.1 581.7,608.6 578.7,609.0 575.7,609.4 572.7,609.8 569.7,610.0 566.7,610.3 563.7,610.4 560.7,610.6 557.7,610.6 554.7,610.6 551.7,610.6 548.7,610.6 545.7,610.5 542.7,610.5 539.7,610.4 536.7,610.3 533.7,610.1 530.7,610.0 527.7,609.9 524.7,609.8 521.7,609.6 518.7,609.5 515.7,609.3 512.7,609.2 509.7,609.1 506.7,608.9 503.7,608.8 500.7,608.6 497.7,608.4 494.7,608.3 491.7,608.1 488.7,607.9 485.7,607.7 482.7,607.6 479.7,607.4 476.7,607.2 473.7,607.1 470.7,606.9 467.7,606.8 464.7,606.7 461.7,606.6 458.7,606.6 455.7,606.5 452.7,606.5 449.7,606.5 446.7,606.5 443.7,606.5 440.7,606.5 437.7,606.5 434.7,606.6 431.7,606.8 429.4,607.0Z" stroke="#1c1282"/>
<path d="M429.4,640.5 429.9,638.6 430.2,637.6 430.5,636.6 431.0,634.7 431.5,632.8 431.8,631.8 432.0,630.9 432.5,628.9 433.0,627.0 433.3,626.0 433.5,625.0 434.0,623.1 434.4,621.1 434.6,620.2 434.8,619.2 435.2,617.2 435.6,615.3 435.8,614.3 436.0,613.3 436.3,611.3 436.6,609.4 436.8,608.4 437.0,607.4 437.3,605.4 437.5,603.4 437.7,602.4 437.8,601.4 438.0,599.4 438.3,597.5 438.3,596.5 438.4,595.5 438.6,593.5 438.7,591.5 438.8,590.5 438.8,589.5 438.9,587.5 439.0,585.5 439.1,584.5 439.1,583.5 439.2,581.5 439.3,579.5 439.3,578.5 439.4,577.5 439.5,575.5 439.6,573.5 439.6,572.5 439.7,571.5 439.8,569.5 439.9,567.5 440.0,566.5 440.1,565.5 440.2,563.5 440.4,561.5 440.5,560.5 440.6,559.5 440.8,557.5 441.1,555.5 441.2,554.5 441.4,553.5 441.6,551.5 441.9,549.6 442.1,548.6 442.3,547.6 442.6,545.7 443.0,543.7 443.3,542.7 443.5,541.8 444.0,539.9 444.6,538.0 444.9,537.0 445.2,536.1 445.9,534.2 446.7,532.3 447.0,531.4 447.4,530.4 448.2,528.6 449.0,526.7 449.4,525.8 449.8,524.9 450.7,523.1 452.0,520.4 453.5,517.8 455.1,515.3 456.7,512.8 458.5,510.4 460.4,508.0 462.2,505.6 464.1,503.3 466.0,500.9 467.9,498.6 469.8,496.2 471.7,493.8 473.8,491.7 475.9,489.7 478.3,488.0 480.7,486.4 483.3,484.9 486.0,483.5 488.7,482.1 491.4,480.8 494.1,479.4 496.8,478.1 499.5,476.7 502.1,475.3 504.8,473.9 507.5,472.6 510.2,471.2 512.8,469.8 515.5,468.5 518.2,467.1 520.9,465.7 523.5,464.4 526.2,463.0 528.9,461.7 531.6,460.3 534.2,459.0 536.9,457.6 539.6,456.2 542.2,454.8 544.9,453.4 547.5,451.9 550.1,450.4 552.7,448.9 555.3,447.4 557.9,445.9 560.5,444.4 563.0,442.9 565.6,441.4 568.3,439.9 570.9,438.5 573.5,437.1 576.2,435.7 578.9,434.3 581.5,433.0 584.2,431.7 587.0,430.4 589.7,429.1 592.4,427.8 595.1,426.5 597.8,425.2 600.5,423.9 603.2,422.6 605.8,421.2 608.4,419.8 611.1,418.3 613.7,416.9 616.2,415.4 618.8,413.8 621.4,412.2 623.9,410.6 626.4,409.0 628.9,407.4 631.4,405.7 633.9,404.0 636.4,402.4 638.9,400.7 641.4,399.0 643.9,397.2 646.3,395.5 648.8,393.8 651.2,392.1 653.7,390.4 656.1,388.6 658.6,386.9 661.0,385.1 663.4,383.4 665.9,381.6 668.3,379.8 670.7,378.0 673.1,376.2 675.5,374.4 677.9,372.6 680.3,370.8 682.7,369.0 685.1,367.2 687.5,365.4 689.8,363.5 692.2,361.7 694.6,359.8 696.9,358.0 699.3,356.1 701.6,354.3 704.0,352.4 706.3,350.5 708.7,348.6 711.0,346.8 713.3,344.9 715.6,343.0 718.0,341.1 720.3,339.2 722.6,337.2 724.9,335.3 727.2,333.4 729.5,331.5 731.8,329.5 734.1,327.6 736.4,325.7 738.6,323.7 740.9,321.8 743.2,319.8 745.5,317.9 747.8,315.9 750.0,313.9 752.3,312.0 754.6,310.0 756.8,308.0 759.1,306.1 761.3,304.1 763.6,302.1 765.8,300.1 768.1,298.1 770.3,296.1 772.5,294.1 774.8,292.1 777.0,290.1 779.2,288.1 781.5,286.1 783.7,284.1 785.9,282.1 788.1,280.1 790.4,278.0 792.6,276.0 794.8,274.0 797.0,272.0 799.2,270.0 801.5,267.9 803.7,265.9 805.9,263.9 808.1,261.8 810.3,259.8 812.5,257.8 814.7,255.7 816.9,253.7 819.1,251.6 821.3,249.6 823.4,247.5 825.6,245.5 827.8,243.4 830.0,241.4 832.2,239.3 834.4,237.3 836.6,235.3 838.8,233.2 841.0,231.2 843.2,229.2 845.5,227.1 847.7,225.1 849.9,223.1 852.1,221.1 854.3,219.0 856.6,217.0 858.8,215.0 861.0,213.0 863.2,210.9 865.4,208.9 867.7,206.9 869.9,204.9 872.1,202.8 874.4,200.8 876.6,198.8 878.9,196.9 881.1,194.9 883.4,192.9 885.7,191.0 888.0,189.1 890.3,187.2 892.7,185.3 895.0,183.5 897.4,181.6 899.8,179.8 902.2,177.9 904.6,176.1 907.0,174.2 909.4,172.4 911.9,170.6 914.3,168.8 916.8,166.9 919.3,165.2 921.8,163.4 924.4,161.7 926.9,160.0 929.5,158.4 932.1,156.9 934.7,155.5 937.3,154.1 939.9,152.8 942.6,151.6 945.3,150.5 948.1,149.5 950.8,148.6 953.6,147.7 956.4,146.9 959.3,146.2 962.1,145.5 965.0,144.8 968.0,144.2 970.9,143.6 973.9,143.0 976.9,142.5 979.9,142.0 982.9,141.6 985.9,141.3 988.9,141.0 991.9,140.8 994.9,140.6 997.9,140.6 1000.9,140.5 1003.9,140.6 1006.9,140.7 1009.9,140.9 1012.9,141.2 1015.9,141.5 1018.9,141.9 1021.8,142.3 1024.8,142.8 1027.8,143.3 1030.7,143.9 1033.6,144.6 1036.5,145.3 1039.4,146.0 1042.3,146.9 1045.1,147.8 1047.9,148.8 1050.6,149.9 1053.3,151.0 1056.0,152.2 1058.6,153.6 1061.2,155.0 1063.7,156.5 1066.3,158.0 1068.8,159.7 1071.2,161.4 1073.7,163.1 1076.2,164.9 1078.6,166.7 1081.1,168.5 1083.5,170.3 1086.0,172.1 1088.5,173.8 1091.0,175.6 1093.5,177.3 1096.0,179.0 1098.5,180.6 1101.1,182.2 1103.7,183.7 1106.3,185.2 1108.9,186.7 1111.5,188.2 1114.1,189.6 1116.8,191.1 1119.4,192.5 1122.1,193.9 1124.7,195.4 1127.4,196.8 1130.1,198.2 1132.8,199.5 1135.5,200.8 1138.2,202.0 1140.9,203.2 1143.6,204.2 1146.4,205.2 1147.3,205.5 1148.2,205.7 1149.2,206.0 1150.1,206.3 1151.0,206.5 1151.9,206.8 1152.8,207.0 1153.8,207.2 1154.7,207.5 1155.6,207.7 1156.5,207.9 1157.5,208.1 1158.4,208.3 1158.4,209.8 1158.4,211.3 1158.4,212.8 1158.4,214.3 1158.4,215.8 1158.4,217.3 1158.4,218.8 1158.4,220.3 1158.4,221.8 1158.4,223.3 1158.4,224.8 1158.4,226.3 1158.4,227.8 1158.4,229.3 1158.4,230.8 1158.3,232.3 1158.3,233.8 1158.2,235.3 1158.0,236.8 1157.8,238.3 1157.5,239.8 1157.2,241.3 1156.8,242.8 1156.4,244.3 1155.9,245.8 1155.4,247.3 1154.9,248.8 1154.4,250.3 1153.9,251.8 1153.4,253.3 1152.9,254.8 1152.4,256.3 1151.9,257.8 1151.5,259.3 1151.0,260.8 1150.6,262.3 1150.2,263.8 1149.7,265.3 1149.3,266.8 1148.9,268.3 1148.5,269.8 1148.1,271.3 1147.7,272.8 1147.3,274.3 1146.9,275.8 1146.5,277.3 1146.1,278.8 1145.7,280.3 1145.3,281.8 1144.9,283.3 1144.4,284.8 1144.0,286.3 1143.5,287.8 1143.0,289.3 1142.5,290.8 1142.0,292.3 1141.5,293.8 1141.0,295.3 1140.5,296.8 1139.9,298.3 1139.4,299.8 1138.8,301.3 1138.3,302.8 1137.8,304.3 1137.2,305.8 1136.7,307.3 1136.2,308.8 1135.7,310.3 1135.2,311.8 1134.7,313.3 1134.3,314.8 1133.8,316.3 1133.3,317.8 1132.9,319.3 1132.4,320.8 1132.0,322.3 1131.6,323.8 1131.2,325.3 1130.7,326.8 1130.3,328.3 1129.9,329.8 1129.5,331.3 1129.0,332.8 1128.6,334.3 1128.1,335.8 1127.7,337.3 1127.2,338.8 1126.7,340.3 1126.2,341.8 1125.7,343.3 1125.1,344.8 1124.6,346.3 1124.0,347.8 1123.4,349.3 1122.8,350.8 1122.1,352.3 1121.5,353.8 1120.8,355.3 1120.1,356.8 1119.4,358.3 1118.7,359.8 1118.0,361.3 1117.3,362.8 1116.6,364.3 1116.0,365.8 1115.3,367.3 1114.6,368.8 1113.9,370.3 1113.3,371.8 1112.6,373.3 1111.9,374.8 1111.2,376.3 1110.3,377.8 1109.4,379.3 1108.5,380.8 1107.4,382.3 1106.3,383.8 1105.1,385.3 1103.9,386.8 1102.7,388.3 1101.4,389.8 1100.1,391.3 1098.7,392.8 1097.4,394.3 1096.0,395.8 1094.6,397.3 1093.2,398.8 1091.7,400.3 1090.2,401.8 1088.7,403.3 1087.2,404.8 1085.6,406.3 1084.0,407.8 1082.3,409.3 1080.7,410.8 1078.9,412.3 1077.2,413.8 1075.4,415.3 1073.6,416.8 1071.7,418.3 1069.7,419.8 1067.7,421.3 1065.6,422.8 1063.5,424.3 1061.2,425.8 1059.2,426.8 1058.2,427.3 1057.2,427.8 1055.2,428.6 1053.2,429.5 1052.2,429.9 1051.2,430.4 1049.2,431.3 1047.2,432.4 1046.2,432.9 1045.2,433.5 1043.2,434.6 1041.2,435.8 1040.2,436.4 1039.2,437.0 1037.2,438.3 1035.2,439.6 1034.2,440.3 1033.2,441.0 1031.2,442.4 1029.2,443.8 1028.2,444.5 1027.2,445.3 1025.2,446.7 1023.2,448.2 1022.2,448.9 1021.2,449.7 1019.2,451.2 1017.2,452.7 1016.2,453.5 1015.2,454.2 1013.2,455.8 1011.2,457.4 1010.2,458.2 1009.2,459.0 1007.2,460.7 1005.2,462.3 1004.2,463.2 1003.2,464.0 1001.2,465.7 999.2,467.5 998.2,468.3 997.2,469.2 995.2,471.0 993.2,472.8 992.2,473.7 991.2,474.5 989.2,476.3 987.2,478.0 986.2,478.9 985.2,479.7 983.2,481.4 981.2,483.0 980.2,483.8 979.2,484.7 977.2,486.3 975.2,488.1 974.2,489.0 973.2,490.0 971.2,492.0 969.2,494.1 968.2,495.2 967.2,496.4 965.2,498.8 963.2,501.3 962.2,502.5 961.2,503.8 959.2,506.4 957.2,509.0 956.2,510.2 955.2,511.5 953.2,514.0 951.2,516.5 950.2,517.7 949.2,518.9 947.2,521.2 945.2,523.5 944.2,524.6 943.2,525.6 941.2,527.6 939.2,529.6 938.2,530.5 937.2,531.3 935.2,533.0 933.2,534.6 932.2,535.3 931.2,536.1 929.2,537.5 927.2,538.9 926.2,539.6 925.2,540.3 923.2,541.7 921.2,543.1 920.2,543.9 919.2,544.6 917.2,546.0 915.2,547.6 914.2,548.4 913.2,549.2 911.2,550.8 909.2,552.5 908.2,553.4 907.2,554.3 905.2,556.2 903.2,558.2 902.2,559.1 901.2,560.2 899.2,562.2 896.2,565.3 893.2,568.5 890.2,571.6 887.2,574.7 884.2,577.5 881.2,580.2 878.2,582.5 875.2,584.7 872.2,586.5 869.2,588.2 866.2,589.6 863.2,590.9 860.2,592.1 857.2,593.1 854.2,594.1 851.2,595.1 848.2,596.0 845.2,596.8 842.2,597.6 839.2,598.3 836.2,599.0 833.2,599.7 830.2,600.4 827.2,601.0 824.2,601.6 821.2,602.2 818.2,602.8 815.2,603.4 812.2,603.9 809.2,604.5 806.2,605.0 803.2,605.5 800.2,606.0 797.2,606.5 794.2,606.9 791.2,607.3 788.2,607.7 785.2,608.1 782.2,608.4 779.2,608.7 776.2,608.9 773.2,609.1 770.2,609.3 767.2,609.5 764.2,609.7 761.2,609.8 758.2,609.9 755.2,610.0 752.2,610.1 749.2,610.2 746.2,610.3 743.2,610.4 740.2,610.5 737.2,610.6 734.2,610.7 731.2,610.8 728.2,610.9 725.2,611.0 722.2,611.1 719.2,611.3 716.2,611.4 713.2,611.6 710.2,611.8 707.2,612.0 704.2,612.3 701.2,612.5 698.2,612.8 695.2,613.1 692.2,613.5 689.2,613.9 686.2,614.3 683.2,614.7 680.2,615.1 677.2,615.6 674.2,616.0 671.2,616.5 668.2,617.0 665.2,617.5 662.2,618.0 659.2,618.6 656.2,619.1 653.2,619.7 650.2,620.3 647.2,621.0 644.2,621.7 641.2,622.4 638.2,623.1 635.2,623.8 632.2,624.5 629.2,625.3 626.2,626.0 623.2,626.8 620.2,627.5 617.2,628.3 614.2,629.0 611.2,629.8 608.2,630.5 605.2,631.3 602.2,632.0 599.2,632.8 596.2,633.6 593.2,634.4 590.2,635.2 587.2,636.0 584.2,636.7 581.2,637.4 578.2,638.1 575.2,638.7 572.2,639.2 569.2,639.6 566.2,640.0 563.2,640.3 560.2,640.5 557.2,640.7 554.2,640.8 551.2,640.9 548.2,641.0 545.2,641.0 542.2,641.1 539.2,641.1 536.2,641.2 533.2,641.2 530.2,641.2 527.2,641.3 524.2,641.3 521.2,641.3 518.2,641.3 515.2,641.3 512.2,641.4 509.2,641.4 506.2,641.4 503.2,641.4 500.2,641.4 497.2,641.3 494.2,641.3 491.2,641.2 488.2,641.2 485.2,641.1 482.2,641.1 479.2,641.0 476.2,640.9 473.2,640.8 470.2,640.7 467.2,640.7 464.2,640.6 461.2,640.6 458.2,640.5 455.2,640.5 452.2,640.4 449.2,640.4 446.2,640.4 443.2,640.3 440.2,640.3 437.2,640.3 434.2,640.4 431.2,640.4 429.4,640.5Z" stroke="#a030ff"/>
<path d="M429.4,655.5 429.9,653.6 430.2,652.6 430.5,651.6 431.0,649.7 431.5,647.8 431.8,646.8 432.0,645.9 432.6,643.9 433.1,642.0 433.3,641.0 433.5,640.0 434.0,638.1 434.5,636.1 434.7,635.2 434.9,634.2 435.3,632.2 435.6,630.3 435.7,629.3 435.8,628.3 436.1,626.3 436.3,624.3 436.4,623.3 436.5,622.3 436.7,620.4 436.9,618.4 437.0,617.4 437.1,616.4 437.2,614.4 437.4,612.4 437.4,611.4 437.5,610.4 437.6,608.4 437.8,606.4 437.8,605.4 437.9,604.4 438.0,602.4 438.2,600.4 438.2,599.4 438.3,598.4 438.4,596.4 438.5,594.4 438.6,593.4 438.6,592.4 438.8,590.4 438.9,588.4 438.9,587.4 438.9,586.4 439.0,584.4 439.1,582.4 439.2,581.4 439.2,580.4 439.3,578.4 439.4,576.4 439.5,575.4 439.5,574.4 439.6,572.4 439.7,570.4 439.8,569.4 439.8,568.4 440.0,566.4 440.1,564.4 440.2,563.4 440.3,562.4 440.5,560.4 440.7,558.4 440.8,557.4 440.9,556.4 441.1,554.4 441.3,552.4 441.5,551.4 441.6,550.5 441.9,548.5 442.2,546.5 442.3,545.5 442.5,544.5 442.8,542.6 443.2,540.6 443.4,539.7 443.6,538.7 444.1,536.8 444.9,533.9 445.9,531.0 446.9,528.2 448.0,525.4 449.1,522.6 450.2,519.8 451.4,517.0 452.7,514.3 454.2,511.7 455.8,509.3 457.7,506.9 459.6,504.6 461.6,502.4 463.7,500.1 465.7,497.9 467.7,495.7 469.8,493.4 471.9,491.2 474.1,489.2 476.3,487.3 478.7,485.7 481.2,484.1 483.8,482.6 486.5,481.2 489.2,479.8 491.9,478.4 494.6,477.1 497.2,475.7 499.9,474.3 502.6,472.9 505.2,471.5 507.9,470.1 510.6,468.7 513.2,467.4 515.9,466.0 518.6,464.6 521.2,463.3 523.9,461.9 526.6,460.5 529.3,459.2 531.9,457.8 534.6,456.4 537.3,455.0 539.9,453.6 542.5,452.2 545.2,450.7 547.8,449.2 550.4,447.7 552.9,446.2 555.5,444.6 558.1,443.1 560.6,441.5 563.2,440.0 565.8,438.5 568.4,437.0 571.0,435.5 573.6,434.1 576.3,432.7 579.0,431.4 581.7,430.1 584.4,428.8 587.1,427.5 589.8,426.3 592.6,425.0 595.3,423.8 598.0,422.5 600.7,421.2 603.4,419.9 606.0,418.5 608.6,417.1 611.3,415.6 613.8,414.1 616.4,412.6 618.9,411.0 621.4,409.4 623.9,407.7 626.4,406.0 628.9,404.3 631.4,402.6 633.8,400.9 636.2,399.1 638.7,397.3 641.1,395.5 643.5,393.8 645.9,392.0 648.4,390.2 650.8,388.4 653.2,386.6 655.6,384.8 658.0,383.0 660.4,381.2 662.7,379.3 665.1,377.5 667.5,375.7 669.8,373.8 672.2,372.0 674.6,370.1 676.9,368.2 679.3,366.4 681.6,364.5 683.9,362.6 686.3,360.7 688.6,358.9 691.0,357.0 693.3,355.1 695.7,353.2 698.0,351.3 700.3,349.5 702.7,347.6 705.0,345.7 707.4,343.8 709.7,342.0 712.1,340.1 714.4,338.2 716.7,336.3 719.1,334.5 721.4,332.6 723.8,330.7 726.1,328.8 728.4,326.9 730.7,325.0 733.0,323.1 735.3,321.1 737.6,319.2 739.9,317.3 742.2,315.3 744.4,313.4 746.7,311.4 748.9,309.4 751.2,307.4 753.4,305.4 755.6,303.4 757.8,301.3 760.0,299.3 762.1,297.2 764.3,295.1 766.5,293.1 768.6,291.0 770.8,288.9 772.9,286.8 775.0,284.7 777.2,282.5 779.3,280.4 781.4,278.3 783.5,276.2 785.6,274.0 787.8,271.9 789.9,269.8 792.0,267.6 794.1,265.5 796.2,263.3 798.3,261.2 800.4,259.1 802.5,256.9 804.6,254.8 806.7,252.6 808.8,250.5 810.9,248.3 813.0,246.2 815.0,244.0 817.1,241.8 819.2,239.7 821.3,237.5 823.3,235.3 825.4,233.2 827.5,231.0 829.6,228.8 831.6,226.7 833.7,224.5 835.8,222.3 837.9,220.2 840.0,218.0 842.1,215.9 844.2,213.7 846.3,211.6 848.4,209.4 850.5,207.3 852.6,205.2 854.7,203.0 856.8,200.9 858.9,198.7 861.0,196.6 863.2,194.4 865.3,192.3 867.4,190.1 869.5,188.0 871.6,185.8 873.8,183.7 875.9,181.6 878.1,179.5 880.2,177.4 882.4,175.4 884.6,173.3 886.8,171.3 889.1,169.3 891.3,167.4 893.6,165.4 895.9,163.5 898.2,161.6 900.5,159.7 902.8,157.9 905.2,156.0 907.6,154.2 910.0,152.4 912.4,150.5 914.9,148.8 917.3,147.0 919.8,145.2 922.3,143.5 924.9,141.8 927.4,140.2 930.0,138.6 932.6,137.1 935.2,135.6 937.8,134.1 940.4,132.8 943.1,131.5 945.8,130.2 948.5,129.0 951.2,127.8 953.9,126.7 956.7,125.6 959.5,124.6 962.4,123.6 965.2,122.6 968.1,121.7 971.0,120.7 973.9,119.9 976.8,119.1 979.7,118.4 982.7,117.7 985.6,117.1 988.6,116.6 991.6,116.2 994.5,115.9 997.5,115.7 1000.5,115.5 1003.5,115.4 1006.5,115.4 1009.5,115.4 1012.4,115.4 1015.4,115.5 1018.4,115.6 1021.5,115.8 1024.5,116.0 1027.5,116.2 1030.4,116.5 1033.4,116.8 1036.4,117.2 1039.4,117.6 1042.3,118.1 1045.2,118.7 1048.1,119.3 1050.9,120.0 1053.7,120.9 1056.5,121.8 1059.2,122.8 1062.0,123.9 1064.6,125.1 1067.3,126.4 1070.0,127.8 1072.6,129.2 1075.2,130.8 1077.8,132.3 1080.4,133.9 1083.0,135.5 1085.6,137.2 1088.2,138.8 1090.8,140.5 1093.4,142.1 1096.0,143.7 1098.5,145.3 1101.1,146.9 1103.7,148.4 1106.3,150.0 1108.9,151.5 1111.5,153.0 1114.1,154.6 1116.7,156.1 1119.3,157.6 1121.8,159.1 1124.5,160.6 1127.1,162.1 1129.7,163.5 1132.3,165.0 1135.0,166.4 1137.6,167.8 1140.3,169.1 1143.0,170.4 1145.7,171.6 1146.6,172.0 1147.5,172.4 1148.4,172.8 1149.3,173.2 1150.2,173.5 1151.1,173.9 1152.0,174.3 1152.9,174.6 1153.8,175.0 1154.8,175.3 1155.7,175.7 1156.6,176.0 1157.5,176.4 1158.4,176.7 1158.4,178.2 1158.4,179.7 1158.4,181.2 1158.4,182.7 1158.4,184.2 1158.4,185.7 1158.4,187.2 1158.4,188.7 1158.4,190.2 1158.4,191.7 1158.4,193.2 1158.3,194.7 1158.3,196.2 1158.2,197.7 1158.1,199.2 1157.9,200.7 1157.7,202.2 1157.5,203.7 1157.2,205.2 1156.9,206.7 1156.6,208.2 1156.4,209.7 1156.1,211.2 1155.8,212.7 1155.5,214.2 1155.1,215.7 1154.8,217.2 1154.5,218.7 1154.2,220.2 1153.9,221.7 1153.6,223.2 1153.3,224.7 1153.0,226.2 1152.7,227.7 1152.3,229.2 1152.0,230.7 1151.6,232.2 1151.3,233.7 1150.9,235.2 1150.5,236.7 1150.1,238.2 1149.6,239.7 1149.2,241.2 1148.7,242.7 1148.2,244.2 1147.7,245.7 1147.2,247.2 1146.7,248.7 1146.2,250.2 1145.7,251.7 1145.2,253.2 1144.7,254.7 1144.2,256.2 1143.7,257.7 1143.3,259.2 1142.8,260.7 1142.4,262.2 1141.9,263.7 1141.5,265.2 1141.1,266.7 1140.7,268.2 1140.3,269.7 1139.9,271.2 1139.5,272.7 1139.1,274.2 1138.7,275.7 1138.3,277.2 1137.9,278.7 1137.5,280.2 1137.1,281.7 1136.6,283.2 1136.2,284.7 1135.7,286.2 1135.3,287.7 1134.8,289.2 1134.3,290.7 1133.8,292.2 1133.3,293.7 1132.8,295.2 1132.2,296.7 1131.7,298.2 1131.2,299.7 1130.6,301.2 1130.1,302.7 1129.5,304.2 1129.0,305.7 1128.4,307.2 1127.9,308.7 1127.3,310.2 1126.8,311.7 1126.3,313.2 1125.8,314.7 1125.2,316.2 1124.7,317.7 1124.2,319.2 1123.7,320.7 1123.2,322.2 1122.8,323.7 1122.3,325.2 1121.8,326.7 1121.3,328.2 1120.8,329.7 1120.3,331.2 1119.8,332.7 1119.3,334.2 1118.8,335.7 1118.3,337.2 1117.7,338.7 1117.2,340.2 1116.6,341.7 1116.0,343.2 1115.4,344.7 1114.8,346.2 1114.1,347.7 1113.4,349.2 1112.7,350.7 1112.0,352.2 1111.3,353.7 1110.6,355.2 1109.8,356.7 1109.0,358.2 1108.2,359.7 1107.4,361.2 1106.6,362.7 1105.8,364.2 1105.0,365.7 1104.2,367.2 1103.3,368.7 1102.5,370.2 1101.7,371.7 1100.8,373.2 1099.9,374.7 1099.0,376.2 1098.1,377.7 1097.0,379.2 1096.0,380.7 1094.9,382.2 1093.7,383.7 1092.5,385.2 1091.2,386.7 1090.0,388.2 1088.7,389.7 1087.3,391.2 1086.0,392.7 1084.6,394.2 1083.2,395.7 1081.8,397.2 1080.3,398.7 1078.8,400.2 1077.3,401.7 1075.7,403.2 1074.2,404.7 1072.5,406.2 1070.9,407.7 1069.2,409.2 1067.6,410.7 1065.9,412.2 1064.1,413.7 1062.4,415.2 1061.5,415.9 1059.5,417.7 1058.5,418.6 1057.5,419.4 1055.5,421.1 1053.5,422.8 1052.5,423.7 1051.5,424.5 1049.5,426.1 1047.5,427.7 1046.5,428.5 1045.5,429.3 1043.5,430.8 1041.5,432.3 1040.5,433.0 1039.5,433.7 1037.5,435.2 1035.5,436.6 1034.5,437.3 1033.5,438.0 1031.5,439.4 1029.5,440.8 1028.5,441.5 1027.5,442.2 1025.5,443.6 1023.5,445.1 1022.5,445.8 1021.5,446.5 1019.5,448.0 1017.5,449.5 1016.5,450.2 1015.5,451.0 1013.5,452.5 1011.5,454.1 1010.5,454.9 1009.5,455.7 1007.5,457.3 1005.5,458.9 1004.5,459.8 1003.5,460.6 1001.5,462.3 999.5,464.0 998.5,464.8 997.5,465.7 995.5,467.5 993.5,469.2 992.5,470.1 991.5,471.0 989.5,472.8 987.5,474.5 986.5,475.4 985.5,476.3 983.5,478.0 981.5,479.7 980.5,480.6 979.5,481.4 977.5,483.2 975.5,485.1 974.5,486.1 973.5,487.1 971.5,489.3 969.5,491.7 968.5,492.9 967.5,494.2 965.5,496.9 963.5,499.7 962.5,501.2 961.5,502.7 959.5,505.6 957.5,508.5 956.5,510.0 955.5,511.4 953.5,514.2 951.5,516.9 950.5,518.2 949.5,519.5 947.5,522.0 945.5,524.4 944.5,525.5 943.5,526.6 941.5,528.8 939.5,530.8 938.5,531.8 937.5,532.8 935.5,534.6 933.5,536.3 932.5,537.2 931.5,538.0 929.5,539.6 927.5,541.2 926.5,542.0 925.5,542.7 923.5,544.3 921.5,545.9 920.5,546.7 919.5,547.5 917.5,549.1 915.5,550.8 914.5,551.7 913.5,552.6 911.5,554.4 909.5,556.3 908.5,557.3 907.5,558.3 905.5,560.3 903.5,562.5 902.5,563.5 901.5,564.6 899.5,566.9 896.5,570.3 893.5,573.8 890.5,577.3 887.5,580.6 884.5,583.8 881.5,586.7 878.5,589.3 875.5,591.7 872.5,593.8 869.5,595.6 866.5,597.2 863.5,598.7 860.5,600.0 857.5,601.1 854.5,602.2 851.5,603.3 848.5,604.2 845.5,605.2 842.5,606.0 839.5,606.9 836.5,607.7 833.5,608.4 830.5,609.2 827.5,609.9 824.5,610.7 821.5,611.4 818.5,612.1 815.5,612.8 812.5,613.5 809.5,614.1 806.5,614.8 803.5,615.4 800.5,616.0 797.5,616.6 794.5,617.2 791.5,617.7 788.5,618.1 785.5,618.6 782.5,619.0 779.5,619.3 776.5,619.6 773.5,619.9 770.5,620.1 767.5,620.3 764.5,620.4 761.5,620.6 758.5,620.7 755.5,620.8 752.5,620.9 749.5,621.0 746.5,621.1 743.5,621.2 740.5,621.3 737.5,621.4 734.5,621.5 731.5,621.6 728.5,621.7 725.5,621.8 722.5,621.9 719.5,622.1 716.5,622.2 713.5,622.4 710.5,622.6 707.5,622.9 704.5,623.2 701.5,623.6 698.5,624.0 695.5,624.4 692.5,624.9 689.5,625.4 686.5,626.0 683.5,626.6 680.5,627.2 677.5,627.9 674.5,628.5 671.5,629.2 668.5,629.8 665.5,630.5 662.5,631.2 659.5,631.8 656.5,632.5 653.5,633.2 650.5,633.9 647.5,634.7 644.5,635.4 641.5,636.2 638.5,636.9 635.5,637.7 632.5,638.5 629.5,639.3 626.5,640.0 623.5,640.8 620.5,641.6 617.5,642.3 614.5,643.1 611.5,643.8 608.5,644.6 605.5,645.4 602.5,646.1 599.5,646.9 596.5,647.7 593.5,648.4 590.5,649.2 587.5,649.9 584.5,650.7 581.5,651.3 578.5,652.0 575.5,652.6 572.5,653.1 569.5,653.6 566.5,654.1 563.5,654.4 560.5,654.7 557.5,655.0 554.5,655.2 551.5,655.4 548.5,655.6 545.5,655.7 542.5,655.9 539.5,656.0 536.5,656.2 533.5,656.3 530.5,656.4 527.5,656.5 524.5,656.6 521.5,656.7 518.5,656.7 515.5,656.8 512.5,656.8 509.5,656.9 506.5,656.9 503.5,656.9 500.5,656.9 497.5,656.9 494.5,656.9 491.5,656.8 488.5,656.8 485.5,656.7 482.5,656.7 479.5,656.6 476.5,656.5 473.5,656.4 470.5,656.4 467.5,656.3 464.5,656.3 461.5,656.3 458.5,656.2 455.5,656.2 452.5,656.2 449.5,656.2 446.5,656.2 443.5,656.1 440.5,656.1 437.5,656.1 434.5,656.0 431.5,655.7 429.4,655.5Z" stroke="#a8309c"/>
<path d="M429.4,669.0 429.9,667.1 430.2,666.1 430.5,665.1 431.0,663.2 431.5,661.3 431.8,660.3 432.0,659.4 432.6,657.4 433.1,655.5 433.3,654.5 433.6,653.5 434.1,651.6 434.5,649.6 434.7,648.7 434.9,647.7 435.3,645.7 435.6,643.8 435.7,642.8 435.8,641.8 436.0,639.8 436.2,637.8 436.3,636.8 436.3,635.9 436.5,633.9 436.6,631.9 436.7,630.9 436.8,629.9 436.9,627.9 437.0,625.9 437.1,624.9 437.1,623.9 437.2,621.9 437.3,619.9 437.4,618.9 437.4,617.9 437.5,615.9 437.6,613.9 437.7,612.9 437.7,611.9 437.8,609.9 437.9,607.9 437.9,606.9 438.0,605.9 438.1,603.9 438.2,601.9 438.2,600.8 438.3,599.8 438.4,597.8 438.5,595.8 438.5,594.8 438.6,593.9 438.7,591.9 438.8,589.9 438.8,588.9 438.9,587.9 438.9,585.9 439.0,583.9 439.1,582.9 439.1,581.9 439.2,579.9 439.3,577.9 439.4,576.9 439.4,575.9 439.5,573.9 439.6,571.9 439.7,570.9 439.8,569.9 439.9,567.9 440.0,565.9 440.1,564.9 440.2,563.9 440.3,561.9 440.5,559.9 440.6,558.9 440.7,557.9 440.9,555.9 441.1,553.9 441.2,552.9 441.3,551.9 441.5,549.9 441.9,546.9 442.3,544.0 442.7,541.0 443.2,538.1 443.8,535.2 444.6,532.3 445.4,529.4 446.3,526.5 447.3,523.6 448.3,520.8 449.3,518.0 450.3,515.1 451.4,512.3 452.7,509.6 454.1,507.0 455.7,504.6 457.6,502.3 459.7,500.1 461.9,498.0 464.2,496.0 466.4,493.9 468.6,491.9 470.9,489.9 473.2,488.0 475.6,486.2 478.1,484.6 480.6,482.9 483.2,481.4 485.8,479.9 488.4,478.4 491.0,477.0 493.7,475.5 496.3,474.1 498.9,472.7 501.6,471.3 504.2,469.9 506.9,468.5 509.5,467.1 512.2,465.7 514.9,464.3 517.5,462.9 520.2,461.6 522.9,460.2 525.5,458.8 528.2,457.4 530.9,456.1 533.5,454.7 536.2,453.3 538.8,451.9 541.5,450.4 544.1,449.0 546.7,447.5 549.3,446.0 551.9,444.4 554.4,442.9 557.0,441.3 559.6,439.8 562.1,438.2 564.7,436.7 567.3,435.1 569.9,433.6 572.5,432.2 575.1,430.7 577.8,429.3 580.4,428.0 583.1,426.6 585.8,425.3 588.5,424.0 591.2,422.7 593.9,421.3 596.6,420.0 599.3,418.7 601.9,417.3 604.6,415.9 607.2,414.4 609.8,413.0 612.3,411.4 614.9,409.9 617.4,408.3 619.9,406.6 622.4,405.0 624.9,403.3 627.3,401.5 629.8,399.8 632.2,398.0 634.6,396.3 637.0,394.5 639.5,392.7 641.9,390.9 644.2,389.0 646.6,387.2 649.0,385.4 651.4,383.6 653.8,381.7 656.1,379.9 658.5,378.0 660.8,376.1 663.2,374.3 665.5,372.4 667.8,370.5 670.1,368.6 672.5,366.7 674.8,364.8 677.1,362.8 679.4,360.9 681.7,359.0 684.0,357.1 686.3,355.1 688.6,353.2 690.9,351.3 693.2,349.4 695.5,347.5 697.8,345.5 700.2,343.6 702.5,341.7 704.8,339.8 707.1,337.9 709.5,336.1 711.8,334.2 714.1,332.3 716.5,330.4 718.8,328.5 721.2,326.6 723.5,324.7 725.8,322.8 728.1,320.9 730.5,319.0 732.8,317.1 735.1,315.2 737.3,313.2 739.6,311.3 741.9,309.3 744.1,307.3 746.3,305.3 748.6,303.3 750.8,301.3 752.9,299.2 755.1,297.2 757.3,295.1 759.4,293.0 761.5,290.9 763.6,288.8 765.7,286.6 767.8,284.5 769.9,282.3 772.0,280.2 774.1,278.0 776.1,275.8 778.2,273.6 780.3,271.5 782.3,269.3 784.4,267.1 786.4,264.9 788.5,262.7 790.6,260.5 792.6,258.3 794.7,256.1 796.7,254.0 798.8,251.8 800.9,249.6 803.0,247.4 805.0,245.3 807.1,243.1 809.2,240.9 811.3,238.8 813.4,236.6 815.4,234.5 817.5,232.3 819.6,230.1 821.7,228.0 823.7,225.8 825.8,223.6 827.9,221.5 830.0,219.3 832.1,217.2 834.1,215.0 836.2,212.8 838.3,210.7 840.4,208.5 842.4,206.3 844.5,204.2 846.6,202.0 848.7,199.8 850.7,197.6 852.8,195.4 854.9,193.2 856.9,191.0 859.0,188.8 861.0,186.6 863.0,184.4 865.1,182.2 867.1,179.9 869.2,177.7 871.2,175.5 873.2,173.3 875.3,171.1 877.4,168.9 879.4,166.7 881.5,164.5 883.6,162.4 885.7,160.3 887.9,158.2 890.0,156.1 892.2,154.1 894.4,152.1 896.6,150.1 898.9,148.2 901.1,146.2 903.4,144.3 905.7,142.4 908.1,140.5 910.5,138.7 912.8,136.8 915.2,135.0 917.7,133.2 920.1,131.4 922.6,129.6 925.1,127.9 927.6,126.2 930.1,124.6 932.7,123.0 935.2,121.4 937.8,119.9 940.4,118.4 943.0,117.0 945.7,115.6 948.3,114.3 951.0,113.0 953.7,111.7 956.4,110.5 959.2,109.3 961.9,108.1 964.7,106.9 967.5,105.8 970.4,104.7 973.2,103.7 976.1,102.7 979.0,101.7 981.9,100.9 984.8,100.1 987.7,99.3 990.6,98.7 993.5,98.1 996.5,97.6 999.4,97.2 1002.4,96.9 1005.3,96.6 1008.3,96.4 1011.3,96.2 1014.3,96.0 1017.3,95.9 1020.3,95.9 1023.3,95.9 1026.3,95.9 1029.3,96.0 1032.3,96.2 1035.3,96.4 1038.3,96.7 1041.2,97.0 1044.2,97.4 1047.1,97.8 1050.0,98.4 1052.9,99.0 1055.8,99.7 1058.6,100.5 1061.4,101.3 1064.2,102.3 1067.0,103.3 1069.8,104.5 1072.6,105.6 1075.3,106.9 1078.1,108.2 1080.8,109.6 1083.5,111.0 1086.2,112.4 1088.9,113.8 1091.6,115.2 1094.2,116.7 1096.9,118.1 1099.5,119.6 1102.2,121.0 1104.8,122.5 1107.4,124.0 1110.0,125.5 1112.6,127.0 1115.2,128.5 1117.8,130.0 1120.4,131.6 1123.0,133.1 1125.6,134.6 1128.2,136.1 1130.8,137.5 1133.5,139.0 1136.1,140.4 1138.8,141.7 1141.4,143.0 1144.1,144.3 1146.8,145.5 1147.7,145.8 1148.6,146.2 1149.5,146.6 1150.4,146.9 1151.3,147.3 1152.1,147.7 1153.0,148.0 1153.9,148.3 1154.8,148.7 1155.7,149.0 1156.6,149.3 1157.5,149.7 1158.4,150.0 1158.4,151.5 1158.4,153.0 1158.4,154.5 1158.4,156.0 1158.4,157.5 1158.4,159.0 1158.4,160.5 1158.4,162.0 1158.3,163.5 1158.2,165.0 1158.1,166.5 1158.0,168.0 1157.8,169.5 1157.6,171.0 1157.3,172.5 1157.0,174.0 1156.7,175.5 1156.4,177.0 1156.1,178.5 1155.8,180.0 1155.5,181.5 1155.2,183.0 1154.9,184.5 1154.6,186.0 1154.3,187.5 1154.0,189.0 1153.7,190.5 1153.4,192.0 1153.1,193.5 1152.8,195.0 1152.5,196.5 1152.2,198.0 1151.9,199.5 1151.6,201.0 1151.3,202.5 1151.0,204.0 1150.7,205.5 1150.4,207.0 1150.1,208.5 1149.8,210.0 1149.5,211.5 1149.2,213.0 1148.9,214.5 1148.6,216.0 1148.3,217.5 1148.0,219.0 1147.7,220.5 1147.4,222.0 1147.1,223.5 1146.7,225.0 1146.4,226.5 1146.1,228.0 1145.8,229.5 1145.4,231.0 1145.1,232.5 1144.7,234.0 1144.3,235.5 1143.9,237.0 1143.5,238.5 1143.0,240.0 1142.6,241.5 1142.1,243.0 1141.6,244.5 1141.1,246.0 1140.6,247.5 1140.1,249.0 1139.6,250.5 1139.1,252.0 1138.6,253.5 1138.1,255.0 1137.6,256.5 1137.1,258.0 1136.7,259.5 1136.2,261.0 1135.8,262.5 1135.4,264.0 1134.9,265.5 1134.5,267.0 1134.1,268.5 1133.7,270.0 1133.3,271.5 1132.9,273.0 1132.5,274.5 1132.1,276.0 1131.7,277.5 1131.3,279.0 1130.9,280.5 1130.5,282.0 1130.1,283.5 1129.6,285.0 1129.2,286.5 1128.7,288.0 1128.2,289.5 1127.7,291.0 1127.2,292.5 1126.7,294.0 1126.2,295.5 1125.6,297.0 1125.1,298.5 1124.5,300.0 1124.0,301.5 1123.4,303.0 1122.9,304.5 1122.3,306.0 1121.7,307.5 1121.2,309.0 1120.6,310.5 1120.0,312.0 1119.5,313.5 1118.9,315.0 1118.4,316.5 1117.8,318.0 1117.3,319.5 1116.8,321.0 1116.2,322.5 1115.7,324.0 1115.1,325.5 1114.6,327.0 1114.1,328.5 1113.5,330.0 1113.0,331.5 1112.4,333.0 1111.9,334.5 1111.3,336.0 1110.7,337.5 1110.1,339.0 1109.5,340.5 1108.9,342.0 1108.2,343.5 1107.5,345.0 1106.9,346.5 1106.2,348.0 1105.4,349.5 1104.7,351.0 1103.9,352.5 1103.1,354.0 1102.3,355.5 1101.4,357.0 1100.6,358.5 1099.7,360.0 1098.8,361.5 1097.9,363.0 1097.0,364.5 1096.1,366.0 1095.2,367.5 1094.2,369.0 1093.3,370.5 1092.3,372.0 1091.3,373.5 1090.3,375.0 1089.2,376.5 1088.1,378.0 1087.0,379.5 1085.8,381.0 1084.7,382.5 1083.4,384.0 1082.2,385.5 1080.9,387.0 1079.6,388.5 1078.3,390.0 1077.0,391.5 1075.6,393.0 1074.2,394.5 1072.8,396.0 1071.3,397.5 1069.8,399.0 1068.3,400.5 1066.7,402.0 1065.1,403.5 1063.5,405.0 1061.8,406.5 1059.8,408.4 1058.8,409.4 1057.8,410.4 1055.8,412.3 1053.8,414.2 1052.8,415.2 1051.8,416.1 1049.8,417.9 1047.8,419.7 1046.8,420.6 1045.8,421.4 1043.8,423.1 1041.8,424.8 1040.8,425.6 1039.8,426.4 1037.8,428.0 1035.8,429.6 1034.8,430.4 1033.8,431.1 1031.8,432.7 1029.8,434.2 1028.8,435.0 1027.8,435.8 1025.8,437.3 1023.8,438.8 1022.8,439.6 1021.8,440.4 1019.8,442.0 1017.8,443.6 1016.8,444.4 1015.8,445.2 1013.8,446.8 1011.8,448.5 1010.8,449.3 1009.8,450.1 1007.8,451.8 1005.8,453.5 1004.8,454.4 1003.8,455.2 1001.8,456.9 999.8,458.7 998.8,459.5 997.8,460.4 995.8,462.1 993.8,463.9 992.8,464.8 991.8,465.7 989.8,467.5 987.8,469.3 986.8,470.2 985.8,471.1 983.8,472.9 981.8,474.7 980.8,475.6 979.8,476.6 977.8,478.5 975.8,480.5 974.8,481.5 973.8,482.6 971.8,484.9 969.8,487.4 968.8,488.7 967.8,490.1 965.8,492.9 963.8,495.9 962.8,497.4 961.8,498.9 959.8,502.0 957.8,505.1 956.8,506.6 955.8,508.1 953.8,511.0 951.8,513.9 950.8,515.2 949.8,516.6 947.8,519.2 945.8,521.7 944.8,522.9 943.8,524.1 941.8,526.4 939.8,528.7 938.8,529.8 937.8,530.8 935.8,532.9 933.8,535.0 932.8,536.0 931.8,537.0 929.8,538.9 927.8,540.8 926.8,541.8 925.8,542.7 923.8,544.6 921.8,546.6 920.8,547.5 919.8,548.5 917.8,550.4 915.8,552.4 914.8,553.5 913.8,554.5 911.8,556.6 909.8,558.8 908.8,559.9 907.8,561.0 905.8,563.3 903.8,565.6 902.8,566.8 901.8,568.0 899.8,570.4 896.8,574.2 893.8,577.9 890.8,581.6 887.8,585.1 884.8,588.5 881.8,591.7 878.8,594.6 875.8,597.1 872.8,599.4 869.8,601.5 866.8,603.3 863.8,604.9 860.8,606.4 857.8,607.8 854.8,609.1 851.8,610.3 848.8,611.4 845.8,612.5 842.8,613.5 839.8,614.5 836.8,615.4 833.8,616.3 830.8,617.2 827.8,618.1 824.8,618.9 821.8,619.8 818.8,620.6 815.8,621.4 812.8,622.2 809.8,623.0 806.8,623.8 803.8,624.5 800.8,625.2 797.8,625.9 794.8,626.5 791.8,627.2 788.8,627.7 785.8,628.2 782.8,628.7 779.8,629.1 776.8,629.5 773.8,629.8 770.8,630.1 767.8,630.3 764.8,630.6 761.8,630.8 758.8,630.9 755.8,631.1 752.8,631.2 749.8,631.3 746.8,631.5 743.8,631.6 740.8,631.7 737.8,631.8 734.8,631.9 731.8,632.1 728.8,632.2 725.8,632.4 722.8,632.5 719.8,632.7 716.8,632.9 713.8,633.1 710.8,633.4 707.8,633.7 704.8,634.1 701.8,634.5 698.8,634.9 695.8,635.4 692.8,635.9 689.8,636.5 686.8,637.1 683.8,637.8 680.8,638.4 677.8,639.1 674.8,639.8 671.8,640.5 668.8,641.2 665.8,641.9 662.8,642.7 659.8,643.4 656.8,644.1 653.8,644.9 650.8,645.6 647.8,646.4 644.8,647.2 641.8,648.1 638.8,648.9 635.8,649.7 632.8,650.5 629.8,651.4 626.8,652.2 623.8,653.0 620.8,653.8 617.8,654.6 614.8,655.4 611.8,656.2 608.8,657.0 605.8,657.8 602.8,658.5 599.8,659.3 596.8,660.1 593.8,660.8 590.8,661.6 587.8,662.3 584.8,663.0 581.8,663.7 578.8,664.4 575.8,665.0 572.8,665.5 569.8,666.0 566.8,666.5 563.8,666.9 560.8,667.2 557.8,667.5 554.8,667.8 551.8,668.0 548.8,668.2 545.8,668.4 542.8,668.6 539.8,668.7 536.8,668.9 533.8,669.1 530.8,669.2 527.8,669.3 524.8,669.4 521.8,669.6 518.8,669.6 515.8,669.7 512.8,669.8 509.8,669.9 506.8,669.9 503.8,669.9 500.8,670.0 497.8,670.0 494.8,670.0 491.8,670.0 488.8,670.0 485.8,670.0 482.8,670.0 479.8,670.0 476.8,670.0 473.8,670.0 470.8,670.0 467.8,670.0 464.8,670.0 461.8,670.0 458.8,670.0 455.8,670.0 452.8,670.0 449.8,670.0 446.8,669.9 443.8,669.9 440.8,669.9 437.8,669.9 434.8,669.7 431.8,669.3 429.4,669.0Z" stroke="#a42838"/>
<path d="M429.4,682.0 429.9,680.1 430.2,679.1 430.5,678.1 431.0,676.2 431.5,674.3 431.8,673.3 432.1,672.4 432.6,670.4 433.1,668.5 433.3,667.5 433.6,666.5 434.1,664.6 434.6,662.6 434.8,661.7 435.0,660.7 435.3,658.7 435.5,656.8 435.6,655.8 435.7,654.8 435.9,652.8 436.0,650.8 436.1,649.8 436.1,648.8 436.2,646.8 436.3,644.8 436.3,643.8 436.4,642.8 436.5,640.8 436.6,638.8 436.6,637.8 436.7,636.8 436.7,634.8 436.8,632.8 436.9,631.8 436.9,630.8 437.0,628.8 437.1,626.8 437.1,625.8 437.2,624.8 437.3,622.8 437.4,620.8 437.4,619.8 437.4,618.8 437.5,616.8 437.6,614.8 437.7,613.8 437.7,612.8 437.8,610.8 437.9,608.8 437.9,607.8 438.0,606.8 438.1,604.8 438.1,602.8 438.2,601.8 438.2,600.8 438.3,598.8 438.4,596.8 438.5,595.8 438.5,594.8 438.6,592.8 438.7,590.8 438.7,589.8 438.8,588.8 438.9,586.8 439.0,584.8 439.0,583.8 439.1,582.8 439.2,580.8 439.3,578.8 439.3,577.8 439.4,576.8 439.5,574.8 439.6,572.9 439.6,571.9 439.7,570.9 439.8,568.9 439.9,566.9 440.0,565.9 440.1,564.9 440.2,562.9 440.5,559.9 440.7,556.9 441.0,553.9 441.3,550.9 441.6,547.9 441.9,544.9 442.3,541.9 442.7,539.0 443.2,536.1 443.8,533.1 444.4,530.2 445.2,527.3 446.0,524.4 446.9,521.5 447.9,518.7 448.8,515.8 449.8,512.9 450.7,510.1 451.8,507.2 453.0,504.5 454.5,502.0 456.2,499.7 458.3,497.5 460.5,495.4 462.8,493.4 465.2,491.5 467.6,489.8 470.1,488.1 472.6,486.4 475.2,484.8 477.7,483.2 480.3,481.6 482.8,480.1 485.4,478.5 487.9,476.9 490.5,475.4 493.1,473.9 495.7,472.4 498.3,470.9 501.0,469.5 503.6,468.1 506.2,466.6 508.9,465.2 511.5,463.8 514.2,462.4 516.9,461.1 519.5,459.7 522.2,458.3 524.9,456.9 527.5,455.5 530.2,454.2 532.8,452.8 535.5,451.3 538.1,449.9 540.7,448.5 543.3,447.0 545.9,445.5 548.5,443.9 551.0,442.3 553.6,440.7 556.1,439.1 558.6,437.5 561.1,435.9 563.7,434.2 566.2,432.6 568.7,431.0 571.2,429.4 573.8,427.8 576.4,426.3 578.9,424.8 581.5,423.2 584.1,421.7 586.7,420.3 589.4,418.8 592.0,417.3 594.6,415.8 597.2,414.3 599.8,412.8 602.4,411.3 605.0,409.8 607.5,408.2 610.1,406.7 612.6,405.1 615.1,403.5 617.6,401.8 620.1,400.2 622.6,398.5 625.1,396.8 627.6,395.1 630.1,393.4 632.5,391.7 635.0,389.9 637.4,388.2 639.8,386.4 642.3,384.7 644.7,382.9 647.1,381.1 649.5,379.3 651.8,377.5 654.2,375.6 656.6,373.8 658.9,371.9 661.3,370.1 663.6,368.2 666.0,366.3 668.3,364.4 670.6,362.5 672.9,360.6 675.2,358.7 677.5,356.7 679.8,354.8 682.1,352.9 684.4,350.9 686.7,349.0 688.9,347.0 691.2,345.0 693.5,343.1 695.8,341.1 698.0,339.2 700.3,337.2 702.6,335.2 704.9,333.3 707.1,331.3 709.4,329.4 711.7,327.4 713.9,325.4 716.2,323.4 718.5,321.5 720.7,319.5 723.0,317.5 725.2,315.5 727.5,313.5 729.7,311.5 731.9,309.5 734.1,307.5 736.4,305.5 738.6,303.4 740.7,301.4 742.9,299.3 745.1,297.3 747.3,295.2 749.4,293.1 751.5,291.0 753.7,288.9 755.8,286.8 757.9,284.6 760.0,282.5 762.1,280.3 764.1,278.2 766.2,276.0 768.3,273.8 770.3,271.6 772.3,269.4 774.4,267.2 776.4,265.0 778.5,262.8 780.5,260.6 782.5,258.4 784.6,256.2 786.6,254.0 788.6,251.8 790.7,249.6 792.7,247.4 794.8,245.2 796.8,243.0 798.9,240.8 800.9,238.6 803.0,236.4 805.1,234.3 807.1,232.1 809.2,229.9 811.3,227.8 813.4,225.6 815.4,223.4 817.5,221.3 819.6,219.1 821.7,217.0 823.8,214.8 825.9,212.6 828.0,210.5 830.0,208.3 832.1,206.2 834.2,204.0 836.3,201.8 838.4,199.7 840.4,197.5 842.5,195.3 844.6,193.2 846.6,191.0 848.7,188.8 850.7,186.6 852.8,184.4 854.8,182.2 856.8,179.9 858.8,177.7 860.8,175.4 862.8,173.2 864.8,170.9 866.8,168.6 868.8,166.4 870.8,164.1 872.8,161.9 874.8,159.6 876.8,157.4 878.8,155.1 880.9,152.9 882.9,150.7 884.9,148.5 887.0,146.4 889.1,144.3 891.2,142.2 893.4,140.1 895.5,138.0 897.7,136.0 899.9,134.0 902.1,132.0 904.4,130.0 906.6,128.1 908.9,126.2 911.3,124.2 913.6,122.3 916.0,120.5 918.4,118.6 920.8,116.8 923.2,114.9 925.6,113.2 928.1,111.4 930.6,109.7 933.0,108.0 935.6,106.3 938.1,104.7 940.6,103.2 943.2,101.6 945.8,100.1 948.4,98.6 951.0,97.2 953.6,95.8 956.3,94.4 958.9,93.0 961.6,91.6 964.3,90.3 967.1,89.0 969.8,87.7 972.6,86.5 975.4,85.3 978.2,84.2 981.0,83.1 983.9,82.1 986.7,81.2 989.6,80.4 992.5,79.6 995.4,78.9 998.3,78.3 1001.2,77.8 1004.1,77.3 1007.1,76.9 1010.1,76.6 1013.0,76.3 1016.0,76.1 1019.0,75.9 1022.0,75.8 1025.0,75.8 1028.0,75.8 1031.0,75.8 1034.0,76.0 1037.0,76.2 1040.0,76.4 1042.9,76.7 1045.9,77.1 1048.9,77.5 1051.8,77.9 1054.7,78.5 1057.6,79.1 1060.5,79.8 1063.4,80.5 1066.3,81.3 1069.1,82.2 1072.0,83.2 1074.8,84.2 1077.7,85.2 1080.5,86.3 1083.3,87.4 1086.1,88.6 1088.9,89.7 1091.7,90.9 1094.5,92.1 1097.2,93.3 1100.0,94.5 1102.7,95.8 1105.4,97.0 1108.2,98.3 1110.9,99.6 1113.6,100.9 1116.2,102.3 1118.9,103.7 1121.6,105.0 1124.2,106.5 1126.9,107.9 1129.5,109.3 1132.1,110.8 1134.7,112.2 1137.3,113.7 1139.9,115.2 1142.5,116.6 1145.1,118.1 1146.8,119.0 1147.6,119.5 1148.5,120.0 1149.3,120.5 1150.1,120.9 1151.0,121.4 1151.8,121.9 1152.6,122.3 1153.5,122.8 1154.3,123.2 1155.1,123.7 1155.9,124.1 1156.8,124.6 1157.6,125.0 1158.4,125.5 1158.3,127.0 1158.2,128.5 1158.1,130.0 1158.0,131.5 1157.9,133.0 1157.8,134.5 1157.6,136.0 1157.5,137.5 1157.4,139.0 1157.2,140.5 1157.1,142.0 1156.9,143.5 1156.7,145.0 1156.5,146.5 1156.4,148.0 1156.1,149.5 1155.9,151.0 1155.7,152.5 1155.5,154.0 1155.2,155.5 1154.9,157.0 1154.6,158.5 1154.3,160.0 1154.0,161.5 1153.7,163.0 1153.4,164.5 1153.0,166.0 1152.7,167.5 1152.4,169.0 1152.1,170.5 1151.7,172.0 1151.4,173.5 1151.1,175.0 1150.8,176.5 1150.5,178.0 1150.2,179.5 1149.9,181.0 1149.6,182.5 1149.2,184.0 1148.9,185.5 1148.6,187.0 1148.3,188.5 1148.0,190.0 1147.7,191.5 1147.4,193.0 1147.1,194.5 1146.8,196.0 1146.5,197.5 1146.2,199.0 1145.9,200.5 1145.6,202.0 1145.3,203.5 1145.0,205.0 1144.7,206.5 1144.4,208.0 1144.1,209.5 1143.8,211.0 1143.5,212.5 1143.2,214.0 1142.9,215.5 1142.6,217.0 1142.3,218.5 1142.0,220.0 1141.7,221.5 1141.4,223.0 1141.1,224.5 1140.8,226.0 1140.4,227.5 1140.1,229.0 1139.8,230.5 1139.4,232.0 1139.1,233.5 1138.7,235.0 1138.3,236.5 1137.9,238.0 1137.4,239.5 1137.0,241.0 1136.5,242.5 1136.0,244.0 1135.5,245.5 1135.0,247.0 1134.5,248.5 1134.0,250.0 1133.5,251.5 1133.0,253.0 1132.5,254.5 1132.0,256.0 1131.5,257.5 1131.1,259.0 1130.6,260.5 1130.2,262.0 1129.7,263.5 1129.3,265.0 1128.9,266.5 1128.5,268.0 1128.1,269.5 1127.7,271.0 1127.3,272.5 1126.9,274.0 1126.5,275.5 1126.1,277.0 1125.7,278.5 1125.3,280.0 1124.9,281.5 1124.5,283.0 1124.0,284.5 1123.6,286.0 1123.1,287.5 1122.6,289.0 1122.1,290.5 1121.6,292.0 1121.1,293.5 1120.6,295.0 1120.1,296.5 1119.5,298.0 1119.0,299.5 1118.4,301.0 1117.8,302.5 1117.3,304.0 1116.7,305.5 1116.1,307.0 1115.5,308.5 1114.9,310.0 1114.4,311.5 1113.8,313.0 1113.2,314.5 1112.6,316.0 1112.0,317.5 1111.4,319.0 1110.8,320.5 1110.3,322.0 1109.7,323.5 1109.1,325.0 1108.5,326.5 1108.0,328.0 1107.4,329.5 1106.8,331.0 1106.2,332.5 1105.6,334.0 1105.0,335.5 1104.3,337.0 1103.7,338.5 1103.0,340.0 1102.4,341.5 1101.7,343.0 1101.0,344.5 1100.2,346.0 1099.5,347.5 1098.7,349.0 1097.9,350.5 1097.1,352.0 1096.3,353.5 1095.4,355.0 1094.5,356.5 1093.6,358.0 1092.7,359.5 1091.7,361.0 1090.7,362.5 1089.8,364.0 1088.7,365.5 1087.7,367.0 1086.7,368.5 1085.6,370.0 1084.5,371.5 1083.4,373.0 1082.2,374.5 1081.1,376.0 1079.9,377.5 1078.7,379.0 1077.5,380.5 1076.3,382.0 1075.0,383.5 1073.8,385.0 1072.5,386.5 1071.2,388.0 1069.8,389.5 1068.5,391.0 1067.1,392.5 1065.7,394.0 1064.3,395.5 1062.8,397.0 1061.3,398.5 1059.3,400.5 1058.3,401.4 1057.3,402.3 1055.3,404.2 1053.3,405.9 1052.3,406.8 1051.3,407.7 1049.3,409.5 1047.3,411.3 1046.3,412.2 1045.3,413.0 1043.3,414.8 1041.3,416.6 1040.3,417.5 1039.3,418.3 1037.3,420.1 1035.3,421.8 1034.3,422.7 1033.3,423.6 1031.3,425.3 1029.3,427.1 1028.3,427.9 1027.3,428.8 1025.3,430.5 1023.3,432.2 1022.3,433.1 1021.3,433.9 1019.3,435.7 1017.3,437.4 1016.3,438.2 1015.3,439.1 1013.3,440.8 1011.3,442.4 1010.3,443.3 1009.3,444.1 1007.3,445.8 1005.3,447.5 1004.3,448.3 1003.3,449.2 1001.3,450.9 999.3,452.7 998.3,453.6 997.3,454.5 995.3,456.3 993.3,458.1 992.3,459.0 991.3,460.0 989.3,461.9 987.3,463.8 986.3,464.7 985.3,465.7 983.3,467.7 981.3,469.7 980.3,470.7 979.3,471.8 977.3,473.9 975.3,476.2 974.3,477.3 973.3,478.5 971.3,481.0 969.3,483.6 968.3,485.0 967.3,486.4 965.3,489.2 963.3,492.2 962.3,493.7 961.3,495.3 959.3,498.3 957.3,501.4 956.3,502.9 955.3,504.4 953.3,507.3 951.3,510.2 950.3,511.6 949.3,513.0 947.3,515.7 945.3,518.4 944.3,519.7 943.3,521.0 941.3,523.6 939.3,526.1 938.3,527.4 937.3,528.6 935.3,531.1 933.3,533.6 932.3,534.8 931.3,536.0 929.3,538.5 927.3,540.9 926.3,542.1 925.3,543.3 923.3,545.7 921.3,548.2 920.3,549.4 919.3,550.6 917.3,553.0 915.3,555.4 914.3,556.6 913.3,557.9 911.3,560.4 909.3,562.9 908.3,564.1 907.3,565.4 905.3,567.9 903.3,570.5 902.3,571.8 901.3,573.1 899.3,575.7 896.3,579.6 893.3,583.5 890.3,587.3 887.3,591.0 884.3,594.4 881.3,597.7 878.3,600.7 875.3,603.5 872.3,606.0 869.3,608.4 866.3,610.5 863.3,612.5 860.3,614.3 857.3,616.1 854.3,617.7 851.3,619.3 848.3,620.8 845.3,622.2 842.3,623.6 839.3,624.9 836.3,626.1 833.3,627.3 830.3,628.4 827.3,629.5 824.3,630.6 821.3,631.6 818.3,632.6 815.3,633.6 812.3,634.6 809.3,635.5 806.3,636.4 803.3,637.3 800.3,638.1 797.3,638.9 794.3,639.7 791.3,640.4 788.3,641.0 785.3,641.5 782.3,642.0 779.3,642.5 776.3,642.8 773.3,643.1 770.3,643.4 767.3,643.6 764.3,643.8 761.3,643.9 758.3,644.0 755.3,644.2 752.3,644.3 749.3,644.4 746.3,644.4 743.3,644.5 740.3,644.6 737.3,644.7 734.3,644.8 731.3,644.9 728.3,645.0 725.3,645.1 722.3,645.2 719.3,645.4 716.3,645.6 713.3,645.8 710.3,646.0 707.3,646.3 704.3,646.7 701.3,647.1 698.3,647.6 695.3,648.1 692.3,648.7 689.3,649.3 686.3,650.0 683.3,650.7 680.3,651.5 677.3,652.2 674.3,653.0 671.3,653.8 668.3,654.6 665.3,655.3 662.3,656.1 659.3,656.9 656.3,657.7 653.3,658.4 650.3,659.2 647.3,660.0 644.3,660.8 641.3,661.6 638.3,662.5 635.3,663.3 632.3,664.1 629.3,664.9 626.3,665.7 623.3,666.5 620.3,667.3 617.3,668.1 614.3,668.9 611.3,669.7 608.3,670.4 605.3,671.2 602.3,672.0 599.3,672.8 596.3,673.6 593.3,674.3 590.3,675.1 587.3,675.8 584.3,676.6 581.3,677.2 578.3,677.9 575.3,678.5 572.3,679.0 569.3,679.5 566.3,679.9 563.3,680.3 560.3,680.6 557.3,680.8 554.3,681.0 551.3,681.2 548.3,681.4 545.3,681.5 542.3,681.7 539.3,681.8 536.3,681.9 533.3,682.0 530.3,682.1 527.3,682.2 524.3,682.3 521.3,682.4 518.3,682.5 515.3,682.5 512.3,682.6 509.3,682.6 506.3,682.6 503.3,682.7 500.3,682.7 497.3,682.7 494.3,682.7 491.3,682.7 488.3,682.7 485.3,682.7 482.3,682.7 479.3,682.7 476.3,682.7 473.3,682.7 470.3,682.7 467.3,682.7 464.3,682.7 461.3,682.7 458.3,682.7 455.3,682.7 452.3,682.7 449.3,682.7 446.3,682.7 443.3,682.6 440.3,682.6 437.3,682.6 434.3,682.4 431.3,682.2 429.4,682.0Z" stroke="#909018"/>
</g>
<line x1="339.0" y1="14.0" x2="339.0" y2="745.6" stroke="#1c1c1c" stroke-width="5.2" stroke-linecap="butt"/>
<line x1="336.4" y1="743.0" x2="1250.0" y2="743.0" stroke="#1c1c1c" stroke-width="5.2" stroke-linecap="butt"/>
<line x1="321.0" y1="117.0" x2="339.0" y2="117.0" stroke="#1c1c1c" stroke-width="4.6" stroke-linecap="butt"/>
<text x="314.8" y="127.2" font-size="40" text-anchor="end" fill="#1c1c1c" stroke="#1c1c1c" stroke-width="0.65" stroke-linejoin="round" >2100</text>
<line x1="321.0" y1="224.0" x2="339.0" y2="224.0" stroke="#1c1c1c" stroke-width="4.6" stroke-linecap="butt"/>
<text x="314.8" y="234.2" font-size="40" text-anchor="end" fill="#1c1c1c" stroke="#1c1c1c" stroke-width="0.65" stroke-linejoin="round" >1400</text>
<line x1="321.0" y1="331.0" x2="339.0" y2="331.0" stroke="#1c1c1c" stroke-width="4.6" stroke-linecap="butt"/>
<text x="314.8" y="341.2" font-size="40" text-anchor="end" fill="#1c1c1c" stroke="#1c1c1c" stroke-width="0.65" stroke-linejoin="round" >700</text>
<line x1="321.0" y1="438.0" x2="339.0" y2="438.0" stroke="#1c1c1c" stroke-width="4.6" stroke-linecap="butt"/>
<text x="314.8" y="448.2" font-size="40" text-anchor="end" fill="#1c1c1c" stroke="#1c1c1c" stroke-width="0.65" stroke-linejoin="round" >0</text>
<line x1="321.0" y1="545.0" x2="339.0" y2="545.0" stroke="#1c1c1c" stroke-width="4.6" stroke-linecap="butt"/>
<text x="314.8" y="555.2" font-size="40" text-anchor="end" fill="#1c1c1c" stroke="#1c1c1c" stroke-width="0.65" stroke-linejoin="round" >-700</text>
<line x1="321.0" y1="652.0" x2="339.0" y2="652.0" stroke="#1c1c1c" stroke-width="4.6" stroke-linecap="butt"/>
<text x="314.8" y="662.2" font-size="40" text-anchor="end" fill="#1c1c1c" stroke="#1c1c1c" stroke-width="0.65" stroke-linejoin="round" >-1400</text>
<line x1="328.0" y1="63.5" x2="339.0" y2="63.5" stroke="#1c1c1c" stroke-width="4.6" stroke-linecap="butt"/>
<line x1="328.0" y1="170.5" x2="339.0" y2="170.5" stroke="#1c1c1c" stroke-width="4.6" stroke-linecap="butt"/>
<line x1="328.0" y1="277.5" x2="339.0" y2="277.5" stroke="#1c1c1c" stroke-width="4.6" stroke-linecap="butt"/>
<line x1="328.0" y1="384.5" x2="339.0" y2="384.5" stroke="#1c1c1c" stroke-width="4.6" stroke-linecap="butt"/>
<line x1="328.0" y1="491.5" x2="339.0" y2="491.5" stroke="#1c1c1c" stroke-width="4.6" stroke-linecap="butt"/>
<line x1="328.0" y1="598.5" x2="339.0" y2="598.5" stroke="#1c1c1c" stroke-width="4.6" stroke-linecap="butt"/>
<line x1="328.0" y1="705.5" x2="339.0" y2="705.5" stroke="#1c1c1c" stroke-width="4.6" stroke-linecap="butt"/>
<line x1="356.5" y1="743.0" x2="356.5" y2="760.2" stroke="#1c1c1c" stroke-width="4.6" stroke-linecap="butt"/>
<text x="356.5" y="798.3" font-size="40" text-anchor="middle" fill="#1c1c1c" stroke="#1c1c1c" stroke-width="0.65" stroke-linejoin="round" >-1.2</text>
<line x1="465.8" y1="743.0" x2="465.8" y2="760.2" stroke="#1c1c1c" stroke-width="4.6" stroke-linecap="butt"/>
<text x="465.8" y="798.3" font-size="40" text-anchor="middle" fill="#1c1c1c" stroke="#1c1c1c" stroke-width="0.65" stroke-linejoin="round" >-0.9</text>
<line x1="575.1" y1="743.0" x2="575.1" y2="760.2" stroke="#1c1c1c" stroke-width="4.6" stroke-linecap="butt"/>
<text x="575.1" y="798.3" font-size="40" text-anchor="middle" fill="#1c1c1c" stroke="#1c1c1c" stroke-width="0.65" stroke-linejoin="round" >-0.6</text>
<line x1="684.4" y1="743.0" x2="684.4" y2="760.2" stroke="#1c1c1c" stroke-width="4.6" stroke-linecap="butt"/>
<text x="684.4" y="798.3" font-size="40" text-anchor="middle" fill="#1c1c1c" stroke="#1c1c1c" stroke-width="0.65" stroke-linejoin="round" >-0.3</text>
<line x1="793.7" y1="743.0" x2="793.7" y2="760.2" stroke="#1c1c1c" stroke-width="4.6" stroke-linecap="butt"/>
<text x="793.7" y="798.3" font-size="40" text-anchor="middle" fill="#1c1c1c" stroke="#1c1c1c" stroke-width="0.65" stroke-linejoin="round" >0.0</text>
<line x1="903.0" y1="743.0" x2="903.0" y2="760.2" stroke="#1c1c1c" stroke-width="4.6" stroke-linecap="butt"/>
<text x="903.0" y="798.3" font-size="40" text-anchor="middle" fill="#1c1c1c" stroke="#1c1c1c" stroke-width="0.65" stroke-linejoin="round" >0.3</text>
<line x1="1012.4" y1="743.0" x2="1012.4" y2="760.2" stroke="#1c1c1c" stroke-width="4.6" stroke-linecap="butt"/>
<text x="1012.4" y="798.3" font-size="40" text-anchor="middle" fill="#1c1c1c" stroke="#1c1c1c" stroke-width="0.65" stroke-linejoin="round" >0.6</text>
<line x1="1121.7" y1="743.0" x2="1121.7" y2="760.2" stroke="#1c1c1c" stroke-width="4.6" stroke-linecap="butt"/>
<text x="1121.7" y="798.3" font-size="40" text-anchor="middle" fill="#1c1c1c" stroke="#1c1c1c" stroke-width="0.65" stroke-linejoin="round" >0.9</text>
<line x1="1231.0" y1="743.0" x2="1231.0" y2="760.2" stroke="#1c1c1c" stroke-width="4.6" stroke-linecap="butt"/>
<text x="1231.0" y="798.3" font-size="40" text-anchor="middle" fill="#1c1c1c" stroke="#1c1c1c" stroke-width="0.65" stroke-linejoin="round" >1.2</text>
<line x1="411.2" y1="743.0" x2="411.2" y2="752.2" stroke="#1c1c1c" stroke-width="4.6" stroke-linecap="butt"/>
<line x1="520.5" y1="743.0" x2="520.5" y2="752.2" stroke="#1c1c1c" stroke-width="4.6" stroke-linecap="butt"/>
<line x1="629.8" y1="743.0" x2="629.8" y2="752.2" stroke="#1c1c1c" stroke-width="4.6" stroke-linecap="butt"/>
<line x1="739.1" y1="743.0" x2="739.1" y2="752.2" stroke="#1c1c1c" stroke-width="4.6" stroke-linecap="butt"/>
<line x1="848.4" y1="743.0" x2="848.4" y2="752.2" stroke="#1c1c1c" stroke-width="4.6" stroke-linecap="butt"/>
<line x1="957.7" y1="743.0" x2="957.7" y2="752.2" stroke="#1c1c1c" stroke-width="4.6" stroke-linecap="butt"/>
<line x1="1067.0" y1="743.0" x2="1067.0" y2="752.2" stroke="#1c1c1c" stroke-width="4.6" stroke-linecap="butt"/>
<line x1="1176.3" y1="743.0" x2="1176.3" y2="752.2" stroke="#1c1c1c" stroke-width="4.6" stroke-linecap="butt"/>
<text x="793.5" y="882.0" font-size="55" text-anchor="middle" fill="#1c1c1c" stroke="#1c1c1c" stroke-width="0.5" stroke-linejoin="round" textLength="318" lengthAdjust="spacingAndGlyphs">potential (V)</text>
<text transform="translate(177,412.2) rotate(-90)" font-size="56" text-anchor="middle" fill="#1c1c1c" textLength="319" lengthAdjust="spacingAndGlyphs" stroke="#1c1c1c" stroke-width="0.5" stroke-linejoin="round">current (uA)</text>
<text x="40.5" y="157" font-size="97" fill="#000" stroke="#000" stroke-width="2.8" stroke-linejoin="round" textLength="130" lengthAdjust="spacingAndGlyphs">(a)</text>
<text x="1208.0" y="143.5" font-size="40" text-anchor="start" fill="#1c1c1c" stroke="#1c1c1c" stroke-width="0.35" stroke-linejoin="round" textLength="179" lengthAdjust="spacingAndGlyphs">130 mV/s</text>
<text x="1209.0" y="425.5" font-size="40" text-anchor="start" fill="#1c1c1c" stroke="#1c1c1c" stroke-width="0.35" stroke-linejoin="round" textLength="160" lengthAdjust="spacingAndGlyphs">40 mV/s</text>
<line x1="1285.6" y1="380.0" x2="1285.6" y2="192.0" stroke="#1c1c1c" stroke-width="4.6" stroke-linecap="butt"/>
<path d="M1285.6 163.5 L1296 198 L1275.2 198 Z" fill="#1c1c1c"/>
</g>
<g id="panel-b">
<rect x="441.2" y="1625.0" width="28.0" height="28.0" fill="#000"/>
<rect x="552.8" y="1529.6" width="28.0" height="28.0" fill="#000"/>
<rect x="653.7" y="1455.7" width="28.0" height="28.0" fill="#000"/>
<rect x="746.5" y="1385.0" width="28.0" height="28.0" fill="#000"/>
<rect x="832.9" y="1321.6" width="28.0" height="28.0" fill="#000"/>
<rect x="914.0" y="1262.7" width="28.0" height="28.0" fill="#000"/>
<rect x="990.7" y="1161.0" width="28.0" height="28.0" fill="#000"/>
<rect x="1063.7" y="1099.5" width="28.0" height="28.0" fill="#000"/>
<rect x="1133.4" y="1053.5" width="28.0" height="28.0" fill="#000"/>
<rect x="1200.3" y="1007.0" width="28.0" height="28.0" fill="#000"/>
<line x1="454.0" y1="1644.0" x2="1217.0" y2="1016.0" stroke="#fa1616" stroke-width="5.6" stroke-linecap="round"/>
<line x1="332.4" y1="938.0" x2="332.4" y2="1716.4" stroke="#1c1c1c" stroke-width="5.2" stroke-linecap="butt"/>
<line x1="328.8" y1="1711.8" x2="1306.5" y2="1711.8" stroke="#1c1c1c" stroke-width="5.2" stroke-linecap="butt"/>
<line x1="313.5" y1="1012.8" x2="332.4" y2="1012.8" stroke="#1c1c1c" stroke-width="4.6" stroke-linecap="butt"/>
<text x="307.0" y="1025.0" font-size="46" text-anchor="end" fill="#1c1c1c" stroke="#1c1c1c" stroke-width="0.65" stroke-linejoin="round" >2400</text>
<line x1="313.5" y1="1123.0" x2="332.4" y2="1123.0" stroke="#1c1c1c" stroke-width="4.6" stroke-linecap="butt"/>
<text x="307.0" y="1135.2" font-size="46" text-anchor="end" fill="#1c1c1c" stroke="#1c1c1c" stroke-width="0.65" stroke-linejoin="round" >2100</text>
<line x1="313.5" y1="1233.3" x2="332.4" y2="1233.3" stroke="#1c1c1c" stroke-width="4.6" stroke-linecap="butt"/>
<text x="307.0" y="1245.5" font-size="46" text-anchor="end" fill="#1c1c1c" stroke="#1c1c1c" stroke-width="0.65" stroke-linejoin="round" >1800</text>
<line x1="313.5" y1="1343.5" x2="332.4" y2="1343.5" stroke="#1c1c1c" stroke-width="4.6" stroke-linecap="butt"/>
<text x="307.0" y="1355.8" font-size="46" text-anchor="end" fill="#1c1c1c" stroke="#1c1c1c" stroke-width="0.65" stroke-linejoin="round" >1500</text>
<line x1="313.5" y1="1453.8" x2="332.4" y2="1453.8" stroke="#1c1c1c" stroke-width="4.6" stroke-linecap="butt"/>
<text x="307.0" y="1466.0" font-size="46" text-anchor="end" fill="#1c1c1c" stroke="#1c1c1c" stroke-width="0.65" stroke-linejoin="round" >1200</text>
<line x1="313.5" y1="1564.0" x2="332.4" y2="1564.0" stroke="#1c1c1c" stroke-width="4.6" stroke-linecap="butt"/>
<text x="307.0" y="1576.2" font-size="46" text-anchor="end" fill="#1c1c1c" stroke="#1c1c1c" stroke-width="0.65" stroke-linejoin="round" >900</text>
<line x1="313.5" y1="1674.3" x2="332.4" y2="1674.3" stroke="#1c1c1c" stroke-width="4.6" stroke-linecap="butt"/>
<text x="307.0" y="1686.5" font-size="46" text-anchor="end" fill="#1c1c1c" stroke="#1c1c1c" stroke-width="0.65" stroke-linejoin="round" >600</text>
<line x1="322.5" y1="957.7" x2="332.4" y2="957.7" stroke="#1c1c1c" stroke-width="4.6" stroke-linecap="butt"/>
<line x1="322.5" y1="1067.9" x2="332.4" y2="1067.9" stroke="#1c1c1c" stroke-width="4.6" stroke-linecap="butt"/>
<line x1="322.5" y1="1178.2" x2="332.4" y2="1178.2" stroke="#1c1c1c" stroke-width="4.6" stroke-linecap="butt"/>
<line x1="322.5" y1="1288.4" x2="332.4" y2="1288.4" stroke="#1c1c1c" stroke-width="4.6" stroke-linecap="butt"/>
<line x1="322.5" y1="1398.7" x2="332.4" y2="1398.7" stroke="#1c1c1c" stroke-width="4.6" stroke-linecap="butt"/>
<line x1="322.5" y1="1508.9" x2="332.4" y2="1508.9" stroke="#1c1c1c" stroke-width="4.6" stroke-linecap="butt"/>
<line x1="322.5" y1="1619.2" x2="332.4" y2="1619.2" stroke="#1c1c1c" stroke-width="4.6" stroke-linecap="butt"/>
<line x1="406.7" y1="1711.8" x2="406.7" y2="1729.5" stroke="#1c1c1c" stroke-width="4.6" stroke-linecap="butt"/>
<text x="406.7" y="1772.5" font-size="46" text-anchor="middle" fill="#1c1c1c" stroke="#1c1c1c" stroke-width="0.65" stroke-linejoin="round" >6</text>
<line x1="556.2" y1="1711.8" x2="556.2" y2="1729.5" stroke="#1c1c1c" stroke-width="4.6" stroke-linecap="butt"/>
<text x="556.2" y="1772.5" font-size="46" text-anchor="middle" fill="#1c1c1c" stroke="#1c1c1c" stroke-width="0.65" stroke-linejoin="round" >7</text>
<line x1="705.7" y1="1711.8" x2="705.7" y2="1729.5" stroke="#1c1c1c" stroke-width="4.6" stroke-linecap="butt"/>
<text x="705.7" y="1772.5" font-size="46" text-anchor="middle" fill="#1c1c1c" stroke="#1c1c1c" stroke-width="0.65" stroke-linejoin="round" >8</text>
<line x1="855.2" y1="1711.8" x2="855.2" y2="1729.5" stroke="#1c1c1c" stroke-width="4.6" stroke-linecap="butt"/>
<text x="855.2" y="1772.5" font-size="46" text-anchor="middle" fill="#1c1c1c" stroke="#1c1c1c" stroke-width="0.65" stroke-linejoin="round" >9</text>
<line x1="1004.7" y1="1711.8" x2="1004.7" y2="1729.5" stroke="#1c1c1c" stroke-width="4.6" stroke-linecap="butt"/>
<text x="1004.7" y="1772.5" font-size="46" text-anchor="middle" fill="#1c1c1c" stroke="#1c1c1c" stroke-width="0.65" stroke-linejoin="round" >10</text>
<line x1="1154.2" y1="1711.8" x2="1154.2" y2="1729.5" stroke="#1c1c1c" stroke-width="4.6" stroke-linecap="butt"/>
<text x="1154.2" y="1772.5" font-size="46" text-anchor="middle" fill="#1c1c1c" stroke="#1c1c1c" stroke-width="0.65" stroke-linejoin="round" >11</text>
<line x1="1303.7" y1="1711.8" x2="1303.7" y2="1729.5" stroke="#1c1c1c" stroke-width="4.6" stroke-linecap="butt"/>
<text x="1303.7" y="1772.5" font-size="46" text-anchor="middle" fill="#1c1c1c" stroke="#1c1c1c" stroke-width="0.65" stroke-linejoin="round" >12</text>
<line x1="481.4" y1="1711.8" x2="481.4" y2="1721.5" stroke="#1c1c1c" stroke-width="4.6" stroke-linecap="butt"/>
<line x1="631.0" y1="1711.8" x2="631.0" y2="1721.5" stroke="#1c1c1c" stroke-width="4.6" stroke-linecap="butt"/>
<line x1="780.5" y1="1711.8" x2="780.5" y2="1721.5" stroke="#1c1c1c" stroke-width="4.6" stroke-linecap="butt"/>
<line x1="930.0" y1="1711.8" x2="930.0" y2="1721.5" stroke="#1c1c1c" stroke-width="4.6" stroke-linecap="butt"/>
<line x1="1079.5" y1="1711.8" x2="1079.5" y2="1721.5" stroke="#1c1c1c" stroke-width="4.6" stroke-linecap="butt"/>
<line x1="1229.0" y1="1711.8" x2="1229.0" y2="1721.5" stroke="#1c1c1c" stroke-width="4.6" stroke-linecap="butt"/>
<text x="815.5" y="1864.0" font-size="58.5" text-anchor="middle" fill="#1c1c1c" stroke="#1c1c1c" stroke-width="0.5" stroke-linejoin="round" textLength="668" lengthAdjust="spacingAndGlyphs">square root of scan rate</text>
<text transform="translate(154.7,1357.8) rotate(-90)" font-size="62" text-anchor="middle" fill="#1c1c1c" textLength="509" lengthAdjust="spacingAndGlyphs" stroke="#1c1c1c" stroke-width="0.5" stroke-linejoin="round">peak current (uA)</text>
<text x="40.5" y="1032" font-size="97" fill="#000" stroke="#000" stroke-width="2.8" stroke-linejoin="round" textLength="130" lengthAdjust="spacingAndGlyphs">(b)</text>
</g>
</svg>
</body></html>
